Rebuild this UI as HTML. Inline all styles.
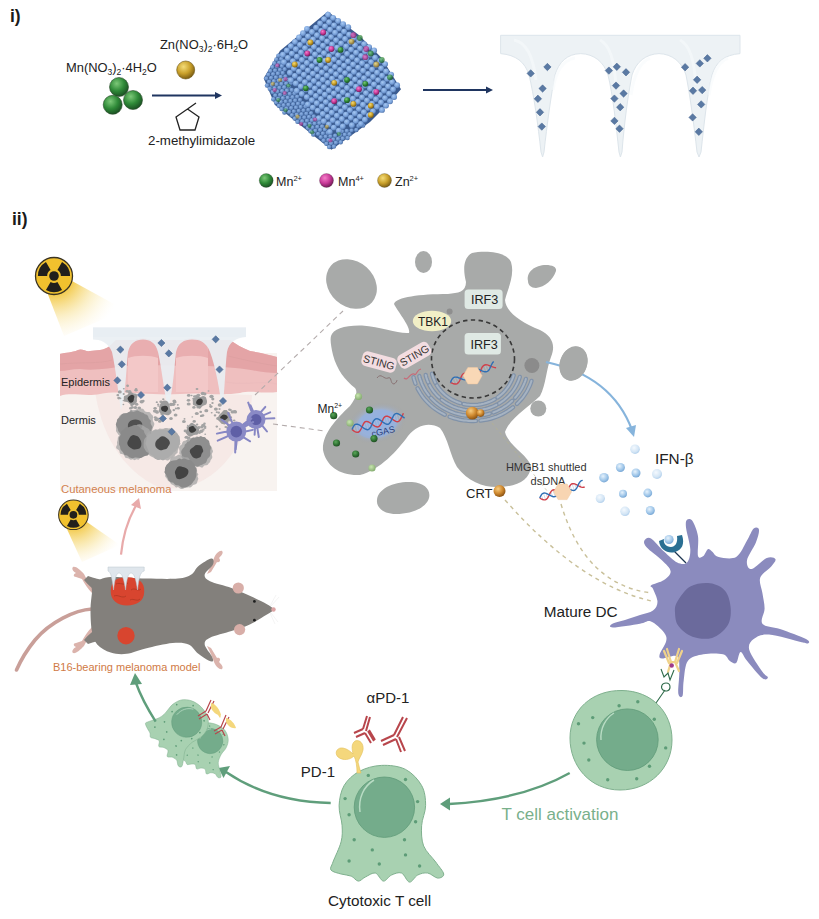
<!DOCTYPE html>
<html><head><meta charset="utf-8">
<style>
html,body{margin:0;padding:0;background:#fff;}
svg{display:block;}
text{font-family:"Liberation Sans",sans-serif;}
</style></head>
<body>
<svg width="819" height="919" viewBox="0 0 819 919">

<defs>
<radialGradient id="gGreen" cx="0.38" cy="0.32" r="0.7"><stop offset="0" stop-color="#7cc878"/><stop offset="0.55" stop-color="#2f8a38"/><stop offset="1" stop-color="#1a4f22"/></radialGradient>
<radialGradient id="gGold" cx="0.38" cy="0.32" r="0.7"><stop offset="0" stop-color="#f4dc78"/><stop offset="0.55" stop-color="#c9a02a"/><stop offset="1" stop-color="#7a5c12"/></radialGradient>
<radialGradient id="gMag" cx="0.38" cy="0.32" r="0.7"><stop offset="0" stop-color="#f57dc8"/><stop offset="0.55" stop-color="#c83a98"/><stop offset="1" stop-color="#701a55"/></radialGradient>
<radialGradient id="gOr" cx="0.38" cy="0.32" r="0.7"><stop offset="0" stop-color="#f7cd82"/><stop offset="0.55" stop-color="#d08a30"/><stop offset="1" stop-color="#8a5212"/></radialGradient>
<radialGradient id="gIfn" cx="0.4" cy="0.35" r="0.65"><stop offset="0" stop-color="#e6f2fc"/><stop offset="0.7" stop-color="#9cc4e8"/><stop offset="1" stop-color="#7aa8d5"/></radialGradient>
<radialGradient id="gIfnL" cx="0.4" cy="0.35" r="0.65"><stop offset="0" stop-color="#f4f9fe"/><stop offset="0.7" stop-color="#d3e5f5"/><stop offset="1" stop-color="#b3d0ec"/></radialGradient>
<radialGradient id="gMnL" cx="0.4" cy="0.35" r="0.7"><stop offset="0" stop-color="#c8e4b0"/><stop offset="1" stop-color="#7fa86a"/></radialGradient>
<radialGradient id="gMnD" cx="0.4" cy="0.35" r="0.7"><stop offset="0" stop-color="#5aa85a"/><stop offset="0.6" stop-color="#2e6f32"/><stop offset="1" stop-color="#1d4a20"/></radialGradient>
<radialGradient id="gBall" cx="0.4" cy="0.35" r="0.7"><stop offset="0" stop-color="#a6c8f2"/><stop offset="0.6" stop-color="#7aa2da"/><stop offset="1" stop-color="#4d70a8"/></radialGradient>
<radialGradient id="gBallD" cx="0.4" cy="0.35" r="0.7"><stop offset="0" stop-color="#8fb3e6"/><stop offset="0.6" stop-color="#6890c8"/><stop offset="1" stop-color="#3d5f98"/></radialGradient>
<radialGradient id="cgasG" cx="0.5" cy="0.5" r="0.5"><stop offset="0" stop-color="#8fb3e8"/><stop offset="0.6" stop-color="#9fb6dc" stop-opacity="0.9"/><stop offset="1" stop-color="#a2a2a2" stop-opacity="0"/></radialGradient>
<linearGradient id="beamG1" x1="0" y1="0" x2="0.7" y2="1"><stop offset="0" stop-color="#f0c230"/><stop offset="0.5" stop-color="#f8e08a" stop-opacity="0.7"/><stop offset="1" stop-color="#fff8e0" stop-opacity="0"/></linearGradient>
<pattern id="ballsTop" width="5.6" height="5.6" patternUnits="userSpaceOnUse" patternTransform="rotate(28)">
<rect width="5.6" height="5.6" fill="#4d7fbe"/><circle cx="2.8" cy="2.8" r="2.75" fill="url(#gBall)"/></pattern>
<pattern id="ballsL" width="4.4" height="4.4" patternUnits="userSpaceOnUse" patternTransform="rotate(-40)">
<rect width="4.4" height="4.4" fill="#456fa8"/><circle cx="2.2" cy="2.2" r="2.1" fill="url(#gBallD)"/></pattern>
</defs>

<rect width="819" height="919" fill="#fff"/>
<text x="10" y="22" font-size="17.5" font-weight="bold" fill="#1a1a1a">i)</text>
<text x="66" y="72" font-size="12.9" fill="#222">Mn(NO<tspan font-size="8.5" dy="3">3</tspan><tspan dy="-3">)</tspan><tspan font-size="8.5" dy="3">2</tspan><tspan dy="-3">·4H</tspan><tspan font-size="8.5" dy="3">2</tspan><tspan dy="-3">O</tspan></text>
<text x="160" y="49" font-size="12.9" fill="#222">Zn(NO<tspan font-size="8.5" dy="3">3</tspan><tspan dy="-3">)</tspan><tspan font-size="8.5" dy="3">2</tspan><tspan dy="-3">·6H</tspan><tspan font-size="8.5" dy="3">2</tspan><tspan dy="-3">O</tspan></text>
<text x="148" y="145" font-size="13.3" fill="#222">2-methylimidazole</text>
<circle cx="119" cy="87" r="9.5" fill="url(#gGreen)" stroke="#2a4a2a" stroke-width="0.6"/>
<circle cx="112.7" cy="104.8" r="9.5" fill="url(#gGreen)" stroke="#2a4a2a" stroke-width="0.6"/>
<circle cx="133" cy="100" r="9.5" fill="url(#gGreen)" stroke="#2a4a2a" stroke-width="0.6"/>
<circle cx="185.7" cy="70" r="9" fill="url(#gGold)" stroke="#6a5210" stroke-width="0.6"/>
<line x1="152" y1="95.5" x2="216" y2="95.5" stroke="#1f3560" stroke-width="2"/>
<path d="M215 92 L222 95.5 L215 99Z" fill="#1f3560"/>
<path d="M176 117 L187.5 109 L199 117 L195 130 L180 130Z M187.5 109 L196 103" fill="none" stroke="#222" stroke-width="1.3"/>
<path d="M327.8 11.4 L358.5 34.7 L381.5 57.7 L401 89.2 L388 104 L370 122 L331.4 149.7 L275 105 L263.7 78.3 L280 50.8Z" fill="#3a5b90"/>
<circle cx="278.4" cy="55.7" r="2.25" fill="url(#gBallD)"/>
<circle cx="281.2" cy="59.0" r="2.25" fill="url(#gBallD)"/>
<circle cx="276.4" cy="59.5" r="2.25" fill="url(#gBallD)"/>
<circle cx="279.2" cy="62.8" r="2.25" fill="url(#gBallD)"/>
<circle cx="274.4" cy="63.3" r="2.25" fill="url(#gBallD)"/>
<circle cx="281.9" cy="66.1" r="2.25" fill="url(#gBallD)"/>
<circle cx="277.1" cy="66.6" r="2.25" fill="url(#gBallD)"/>
<circle cx="272.4" cy="67.1" r="2.25" fill="url(#gBallD)"/>
<circle cx="284.7" cy="69.3" r="2.25" fill="url(#gBallD)"/>
<circle cx="279.9" cy="69.9" r="2.25" fill="url(#gBallD)"/>
<circle cx="275.1" cy="70.4" r="2.25" fill="url(#gBallD)"/>
<circle cx="270.3" cy="70.9" r="2.25" fill="url(#gBallD)"/>
<circle cx="282.7" cy="73.1" r="2.25" fill="url(#gBallD)"/>
<circle cx="277.9" cy="73.6" r="2.25" fill="url(#gBallD)"/>
<circle cx="273.1" cy="74.2" r="2.25" fill="url(#gBallD)"/>
<circle cx="268.3" cy="74.7" r="2.25" fill="url(#gBallD)"/>
<circle cx="285.4" cy="76.4" r="2.25" fill="url(#gBallD)"/>
<circle cx="280.7" cy="76.9" r="2.25" fill="url(#gBallD)"/>
<circle cx="275.9" cy="77.4" r="2.25" fill="url(#gBallD)"/>
<circle cx="271.1" cy="77.9" r="2.25" fill="url(#gBallD)"/>
<circle cx="266.3" cy="78.5" r="2.25" fill="url(#gBallD)"/>
<circle cx="288.2" cy="79.7" r="2.25" fill="url(#gBallD)"/>
<circle cx="283.4" cy="80.2" r="2.25" fill="url(#gBallD)"/>
<circle cx="278.6" cy="80.7" r="2.25" fill="url(#gBallD)"/>
<circle cx="273.9" cy="81.2" r="2.25" fill="url(#gBallD)"/>
<circle cx="269.1" cy="81.7" r="2.25" fill="url(#gBallD)"/>
<circle cx="291.0" cy="83.0" r="2.25" fill="url(#gBallD)"/>
<circle cx="286.2" cy="83.5" r="2.25" fill="url(#gBallD)"/>
<circle cx="281.4" cy="84.0" r="2.25" fill="url(#gBallD)"/>
<circle cx="276.6" cy="84.5" r="2.25" fill="url(#gBallD)"/>
<circle cx="271.8" cy="85.0" r="2.25" fill="url(#gBallD)"/>
<circle cx="267.0" cy="85.5" r="2.25" fill="url(#gBallD)"/>
<circle cx="288.9" cy="86.8" r="2.25" fill="url(#gBallD)"/>
<circle cx="284.2" cy="87.3" r="2.25" fill="url(#gBallD)"/>
<circle cx="279.4" cy="87.8" r="2.25" fill="url(#gBallD)"/>
<circle cx="274.6" cy="88.3" r="2.25" fill="url(#gBallD)"/>
<circle cx="269.8" cy="88.8" r="2.25" fill="url(#gBallD)"/>
<circle cx="291.7" cy="90.1" r="2.25" fill="url(#gBallD)"/>
<circle cx="286.9" cy="90.6" r="2.25" fill="url(#gBallD)"/>
<circle cx="282.1" cy="91.1" r="2.25" fill="url(#gBallD)"/>
<circle cx="277.4" cy="91.6" r="2.25" fill="url(#gBallD)"/>
<circle cx="272.6" cy="92.1" r="2.25" fill="url(#gBallD)"/>
<circle cx="294.5" cy="93.4" r="2.25" fill="url(#gBallD)"/>
<circle cx="289.7" cy="93.9" r="2.25" fill="url(#gBallD)"/>
<circle cx="284.9" cy="94.4" r="2.25" fill="url(#gBallD)"/>
<circle cx="280.1" cy="94.9" r="2.25" fill="url(#gBallD)"/>
<circle cx="275.3" cy="95.4" r="2.25" fill="url(#gBallD)"/>
<circle cx="297.2" cy="96.7" r="2.25" fill="url(#gBallD)"/>
<circle cx="292.5" cy="97.2" r="2.25" fill="url(#gBallD)"/>
<circle cx="287.7" cy="97.7" r="2.25" fill="url(#gBallD)"/>
<circle cx="282.9" cy="98.2" r="2.25" fill="url(#gBallD)"/>
<circle cx="278.1" cy="98.7" r="2.25" fill="url(#gBallD)"/>
<circle cx="273.3" cy="99.2" r="2.25" fill="url(#gBallD)"/>
<circle cx="300.0" cy="100.0" r="2.25" fill="url(#gBallD)"/>
<circle cx="295.2" cy="100.5" r="2.25" fill="url(#gBallD)"/>
<circle cx="290.4" cy="101.0" r="2.25" fill="url(#gBallD)"/>
<circle cx="285.7" cy="101.5" r="2.25" fill="url(#gBallD)"/>
<circle cx="280.9" cy="102.0" r="2.25" fill="url(#gBallD)"/>
<circle cx="276.1" cy="102.5" r="2.25" fill="url(#gBallD)"/>
<circle cx="302.8" cy="103.3" r="2.25" fill="url(#gBallD)"/>
<circle cx="298.0" cy="103.8" r="2.25" fill="url(#gBallD)"/>
<circle cx="293.2" cy="104.3" r="2.25" fill="url(#gBallD)"/>
<circle cx="288.4" cy="104.8" r="2.25" fill="url(#gBallD)"/>
<circle cx="283.6" cy="105.3" r="2.25" fill="url(#gBallD)"/>
<circle cx="278.9" cy="105.8" r="2.25" fill="url(#gBallD)"/>
<circle cx="305.5" cy="106.6" r="2.25" fill="url(#gBallD)"/>
<circle cx="300.7" cy="107.1" r="2.25" fill="url(#gBallD)"/>
<circle cx="296.0" cy="107.6" r="2.25" fill="url(#gBallD)"/>
<circle cx="291.2" cy="108.1" r="2.25" fill="url(#gBallD)"/>
<circle cx="286.4" cy="108.6" r="2.25" fill="url(#gBallD)"/>
<circle cx="281.6" cy="109.1" r="2.25" fill="url(#gBallD)"/>
<circle cx="308.3" cy="109.9" r="2.25" fill="url(#gBallD)"/>
<circle cx="303.5" cy="110.4" r="2.25" fill="url(#gBallD)"/>
<circle cx="298.7" cy="110.9" r="2.25" fill="url(#gBallD)"/>
<circle cx="293.9" cy="111.4" r="2.25" fill="url(#gBallD)"/>
<circle cx="289.2" cy="111.9" r="2.25" fill="url(#gBallD)"/>
<circle cx="284.4" cy="112.4" r="2.25" fill="url(#gBallD)"/>
<circle cx="311.1" cy="113.2" r="2.25" fill="url(#gBallD)"/>
<circle cx="306.3" cy="113.7" r="2.25" fill="url(#gBallD)"/>
<circle cx="301.5" cy="114.2" r="2.25" fill="url(#gBallD)"/>
<circle cx="296.7" cy="114.7" r="2.25" fill="url(#gBallD)"/>
<circle cx="291.9" cy="115.2" r="2.25" fill="url(#gBallD)"/>
<circle cx="313.8" cy="116.5" r="2.25" fill="url(#gBallD)"/>
<circle cx="309.0" cy="117.0" r="2.25" fill="url(#gBallD)"/>
<circle cx="304.3" cy="117.5" r="2.25" fill="url(#gBallD)"/>
<circle cx="299.5" cy="118.0" r="2.25" fill="url(#gBallD)"/>
<circle cx="294.7" cy="118.5" r="2.25" fill="url(#gBallD)"/>
<circle cx="316.6" cy="119.8" r="2.25" fill="url(#gBallD)"/>
<circle cx="311.8" cy="120.3" r="2.25" fill="url(#gBallD)"/>
<circle cx="307.0" cy="120.8" r="2.25" fill="url(#gBallD)"/>
<circle cx="302.2" cy="121.3" r="2.25" fill="url(#gBallD)"/>
<circle cx="297.5" cy="121.8" r="2.25" fill="url(#gBallD)"/>
<circle cx="319.3" cy="123.1" r="2.25" fill="url(#gBallD)"/>
<circle cx="314.6" cy="123.6" r="2.25" fill="url(#gBallD)"/>
<circle cx="309.8" cy="124.1" r="2.25" fill="url(#gBallD)"/>
<circle cx="305.0" cy="124.6" r="2.25" fill="url(#gBallD)"/>
<circle cx="363.1" cy="125.6" r="2.25" fill="url(#gBallD)"/>
<circle cx="358.4" cy="126.1" r="2.25" fill="url(#gBallD)"/>
<circle cx="322.1" cy="126.4" r="2.25" fill="url(#gBallD)"/>
<circle cx="317.3" cy="126.9" r="2.25" fill="url(#gBallD)"/>
<circle cx="312.5" cy="127.4" r="2.25" fill="url(#gBallD)"/>
<circle cx="307.8" cy="127.9" r="2.25" fill="url(#gBallD)"/>
<circle cx="324.9" cy="129.6" r="2.25" fill="url(#gBallD)"/>
<circle cx="356.3" cy="129.9" r="2.25" fill="url(#gBallD)"/>
<circle cx="320.1" cy="130.1" r="2.25" fill="url(#gBallD)"/>
<circle cx="351.6" cy="130.4" r="2.25" fill="url(#gBallD)"/>
<circle cx="315.3" cy="130.7" r="2.25" fill="url(#gBallD)"/>
<circle cx="346.8" cy="130.9" r="2.25" fill="url(#gBallD)"/>
<circle cx="310.5" cy="131.2" r="2.25" fill="url(#gBallD)"/>
<circle cx="342.0" cy="131.4" r="2.25" fill="url(#gBallD)"/>
<circle cx="327.6" cy="132.9" r="2.25" fill="url(#gBallD)"/>
<circle cx="322.9" cy="133.4" r="2.25" fill="url(#gBallD)"/>
<circle cx="318.1" cy="133.9" r="2.25" fill="url(#gBallD)"/>
<circle cx="349.5" cy="134.2" r="2.25" fill="url(#gBallD)"/>
<circle cx="313.3" cy="134.4" r="2.25" fill="url(#gBallD)"/>
<circle cx="344.8" cy="134.7" r="2.25" fill="url(#gBallD)"/>
<circle cx="340.0" cy="135.2" r="2.25" fill="url(#gBallD)"/>
<circle cx="335.2" cy="135.7" r="2.25" fill="url(#gBallD)"/>
<circle cx="330.4" cy="136.2" r="2.25" fill="url(#gBallD)"/>
<circle cx="325.6" cy="136.7" r="2.25" fill="url(#gBallD)"/>
<circle cx="320.8" cy="137.2" r="2.25" fill="url(#gBallD)"/>
<circle cx="347.5" cy="138.0" r="2.25" fill="url(#gBallD)"/>
<circle cx="342.7" cy="138.5" r="2.25" fill="url(#gBallD)"/>
<circle cx="338.0" cy="139.0" r="2.25" fill="url(#gBallD)"/>
<circle cx="333.2" cy="139.5" r="2.25" fill="url(#gBallD)"/>
<circle cx="328.4" cy="140.0" r="2.25" fill="url(#gBallD)"/>
<circle cx="323.6" cy="140.5" r="2.25" fill="url(#gBallD)"/>
<circle cx="340.7" cy="142.3" r="2.25" fill="url(#gBallD)"/>
<circle cx="335.9" cy="142.8" r="2.25" fill="url(#gBallD)"/>
<circle cx="331.1" cy="143.3" r="2.25" fill="url(#gBallD)"/>
<circle cx="326.4" cy="143.8" r="2.25" fill="url(#gBallD)"/>
<circle cx="333.9" cy="146.6" r="2.25" fill="url(#gBallD)"/>
<circle cx="329.1" cy="147.1" r="2.25" fill="url(#gBallD)"/>
<circle cx="328.1" cy="14.8" r="2.95" fill="url(#gBall)"/>
<circle cx="333.1" cy="17.9" r="2.95" fill="url(#gBall)"/>
<circle cx="324.1" cy="19.1" r="2.95" fill="url(#gBall)"/>
<circle cx="338.1" cy="21.0" r="2.95" fill="url(#gBall)"/>
<circle cx="329.1" cy="22.2" r="2.95" fill="url(#gBall)"/>
<circle cx="320.1" cy="23.4" r="2.95" fill="url(#gBall)"/>
<circle cx="343.1" cy="24.2" r="2.95" fill="url(#gBall)"/>
<circle cx="334.1" cy="25.4" r="2.95" fill="url(#gBall)"/>
<circle cx="325.1" cy="26.5" r="2.95" fill="url(#gBall)"/>
<circle cx="348.2" cy="27.3" r="2.95" fill="url(#gBall)"/>
<circle cx="316.1" cy="27.7" r="2.95" fill="url(#gBall)"/>
<circle cx="339.1" cy="28.5" r="2.95" fill="url(#gBall)"/>
<circle cx="307.0" cy="28.9" r="2.95" fill="url(#gBall)"/>
<circle cx="330.1" cy="29.7" r="2.95" fill="url(#gBall)"/>
<circle cx="321.1" cy="30.9" r="2.95" fill="url(#gBall)"/>
<circle cx="344.1" cy="31.6" r="2.95" fill="url(#gBall)"/>
<circle cx="312.0" cy="32.0" r="2.95" fill="url(#gBall)"/>
<circle cx="335.1" cy="32.8" r="2.95" fill="url(#gBall)"/>
<circle cx="303.0" cy="33.2" r="2.95" fill="url(#gBall)"/>
<circle cx="326.1" cy="34.0" r="2.95" fill="url(#gBall)"/>
<circle cx="349.1" cy="34.7" r="2.95" fill="url(#gBall)"/>
<circle cx="317.0" cy="35.2" r="2.95" fill="url(#gBall)"/>
<circle cx="340.1" cy="35.9" r="2.95" fill="url(#gBall)"/>
<circle cx="308.0" cy="36.4" r="2.95" fill="url(#gBall)"/>
<circle cx="331.1" cy="37.1" r="2.95" fill="url(#gBall)"/>
<circle cx="299.0" cy="37.5" r="2.95" fill="url(#gBall)"/>
<circle cx="354.1" cy="37.9" r="2.95" fill="url(#gBall)"/>
<circle cx="322.1" cy="38.3" r="2.95" fill="url(#gBall)"/>
<circle cx="345.1" cy="39.0" r="2.95" fill="url(#gBall)"/>
<circle cx="313.0" cy="39.5" r="2.95" fill="url(#gBall)"/>
<circle cx="336.1" cy="40.2" r="2.95" fill="url(#gBall)"/>
<circle cx="304.0" cy="40.7" r="2.95" fill="url(#gBall)"/>
<circle cx="359.1" cy="41.0" r="2.95" fill="url(#gBall)"/>
<circle cx="327.1" cy="41.4" r="2.95" fill="url(#gBall)"/>
<circle cx="295.0" cy="41.9" r="2.95" fill="url(#gBall)"/>
<circle cx="350.1" cy="42.2" r="2.95" fill="url(#gBall)"/>
<circle cx="318.0" cy="42.6" r="2.95" fill="url(#gBall)"/>
<circle cx="341.1" cy="43.4" r="2.95" fill="url(#gBall)"/>
<circle cx="309.0" cy="43.8" r="2.95" fill="url(#gBall)"/>
<circle cx="364.1" cy="44.1" r="2.95" fill="url(#gBall)"/>
<circle cx="332.1" cy="44.5" r="2.95" fill="url(#gBall)"/>
<circle cx="300.0" cy="45.0" r="2.95" fill="url(#gBall)"/>
<circle cx="355.1" cy="45.3" r="2.95" fill="url(#gBall)"/>
<circle cx="323.0" cy="45.7" r="2.95" fill="url(#gBall)"/>
<circle cx="290.9" cy="46.2" r="2.95" fill="url(#gBall)"/>
<circle cx="346.1" cy="46.5" r="2.95" fill="url(#gBall)"/>
<circle cx="314.0" cy="46.9" r="2.95" fill="url(#gBall)"/>
<circle cx="369.1" cy="47.2" r="2.95" fill="url(#gBall)"/>
<circle cx="337.1" cy="47.7" r="2.95" fill="url(#gBall)"/>
<circle cx="305.0" cy="48.1" r="2.95" fill="url(#gBall)"/>
<circle cx="360.1" cy="48.4" r="2.95" fill="url(#gBall)"/>
<circle cx="328.0" cy="48.9" r="2.95" fill="url(#gBall)"/>
<circle cx="295.9" cy="49.3" r="2.95" fill="url(#gBall)"/>
<circle cx="351.1" cy="49.6" r="2.95" fill="url(#gBall)"/>
<circle cx="319.0" cy="50.1" r="2.95" fill="url(#gBall)"/>
<circle cx="374.1" cy="50.4" r="2.95" fill="url(#gBall)"/>
<circle cx="286.9" cy="50.5" r="2.95" fill="url(#gBall)"/>
<circle cx="342.1" cy="50.8" r="2.95" fill="url(#gBall)"/>
<circle cx="310.0" cy="51.2" r="2.95" fill="url(#gBall)"/>
<circle cx="365.1" cy="51.6" r="2.95" fill="url(#gBall)"/>
<circle cx="333.0" cy="52.0" r="2.95" fill="url(#gBall)"/>
<circle cx="301.0" cy="52.4" r="2.95" fill="url(#gBall)"/>
<circle cx="356.1" cy="52.7" r="2.95" fill="url(#gBall)"/>
<circle cx="324.0" cy="53.2" r="2.95" fill="url(#gBall)"/>
<circle cx="291.9" cy="53.6" r="2.95" fill="url(#gBall)"/>
<circle cx="347.1" cy="53.9" r="2.95" fill="url(#gBall)"/>
<circle cx="315.0" cy="54.4" r="2.95" fill="url(#gBall)"/>
<circle cx="370.1" cy="54.7" r="2.95" fill="url(#gBall)"/>
<circle cx="282.9" cy="54.8" r="2.95" fill="url(#gBall)"/>
<circle cx="338.0" cy="55.1" r="2.95" fill="url(#gBall)"/>
<circle cx="306.0" cy="55.6" r="2.95" fill="url(#gBall)"/>
<circle cx="361.1" cy="55.9" r="2.95" fill="url(#gBall)"/>
<circle cx="329.0" cy="56.3" r="2.95" fill="url(#gBall)"/>
<circle cx="296.9" cy="56.7" r="2.95" fill="url(#gBall)"/>
<circle cx="352.1" cy="57.1" r="2.95" fill="url(#gBall)"/>
<circle cx="320.0" cy="57.5" r="2.95" fill="url(#gBall)"/>
<circle cx="375.1" cy="57.8" r="2.95" fill="url(#gBall)"/>
<circle cx="287.9" cy="57.9" r="2.95" fill="url(#gBall)"/>
<circle cx="343.0" cy="58.2" r="2.95" fill="url(#gBall)"/>
<circle cx="311.0" cy="58.7" r="2.95" fill="url(#gBall)"/>
<circle cx="366.1" cy="59.0" r="2.95" fill="url(#gBall)"/>
<circle cx="334.0" cy="59.4" r="2.95" fill="url(#gBall)"/>
<circle cx="301.9" cy="59.9" r="2.95" fill="url(#gBall)"/>
<circle cx="357.1" cy="60.2" r="2.95" fill="url(#gBall)"/>
<circle cx="325.0" cy="60.6" r="2.95" fill="url(#gBall)"/>
<circle cx="380.1" cy="60.9" r="2.95" fill="url(#gBall)"/>
<circle cx="292.9" cy="61.1" r="2.95" fill="url(#gBall)"/>
<circle cx="348.0" cy="61.4" r="2.95" fill="url(#gBall)"/>
<circle cx="316.0" cy="61.8" r="2.95" fill="url(#gBall)"/>
<circle cx="371.1" cy="62.1" r="2.95" fill="url(#gBall)"/>
<circle cx="283.9" cy="62.2" r="2.95" fill="url(#gBall)"/>
<circle cx="339.0" cy="62.6" r="2.95" fill="url(#gBall)"/>
<circle cx="306.9" cy="63.0" r="2.95" fill="url(#gBall)"/>
<circle cx="362.1" cy="63.3" r="2.95" fill="url(#gBall)"/>
<circle cx="330.0" cy="63.7" r="2.95" fill="url(#gBall)"/>
<circle cx="385.1" cy="64.1" r="2.95" fill="url(#gBall)"/>
<circle cx="297.9" cy="64.2" r="2.95" fill="url(#gBall)"/>
<circle cx="353.1" cy="64.5" r="2.95" fill="url(#gBall)"/>
<circle cx="321.0" cy="64.9" r="2.95" fill="url(#gBall)"/>
<circle cx="376.1" cy="65.2" r="2.95" fill="url(#gBall)"/>
<circle cx="288.9" cy="65.4" r="2.95" fill="url(#gBall)"/>
<circle cx="344.0" cy="65.7" r="2.95" fill="url(#gBall)"/>
<circle cx="311.9" cy="66.1" r="2.95" fill="url(#gBall)"/>
<circle cx="367.1" cy="66.4" r="2.95" fill="url(#gBall)"/>
<circle cx="335.0" cy="66.9" r="2.95" fill="url(#gBall)"/>
<circle cx="302.9" cy="67.3" r="2.95" fill="url(#gBall)"/>
<circle cx="358.1" cy="67.6" r="2.95" fill="url(#gBall)"/>
<circle cx="326.0" cy="68.1" r="2.95" fill="url(#gBall)"/>
<circle cx="381.1" cy="68.4" r="2.95" fill="url(#gBall)"/>
<circle cx="293.9" cy="68.5" r="2.95" fill="url(#gBall)"/>
<circle cx="349.0" cy="68.8" r="2.95" fill="url(#gBall)"/>
<circle cx="316.9" cy="69.3" r="2.95" fill="url(#gBall)"/>
<circle cx="372.1" cy="69.6" r="2.95" fill="url(#gBall)"/>
<circle cx="340.0" cy="70.0" r="2.95" fill="url(#gBall)"/>
<circle cx="307.9" cy="70.4" r="2.95" fill="url(#gBall)"/>
<circle cx="363.1" cy="70.7" r="2.95" fill="url(#gBall)"/>
<circle cx="331.0" cy="71.2" r="2.95" fill="url(#gBall)"/>
<circle cx="386.1" cy="71.5" r="2.95" fill="url(#gBall)"/>
<circle cx="298.9" cy="71.6" r="2.95" fill="url(#gBall)"/>
<circle cx="354.0" cy="71.9" r="2.95" fill="url(#gBall)"/>
<circle cx="321.9" cy="72.4" r="2.95" fill="url(#gBall)"/>
<circle cx="377.1" cy="72.7" r="2.95" fill="url(#gBall)"/>
<circle cx="289.9" cy="72.8" r="2.95" fill="url(#gBall)"/>
<circle cx="345.0" cy="73.1" r="2.95" fill="url(#gBall)"/>
<circle cx="312.9" cy="73.6" r="2.95" fill="url(#gBall)"/>
<circle cx="368.1" cy="73.9" r="2.95" fill="url(#gBall)"/>
<circle cx="336.0" cy="74.3" r="2.95" fill="url(#gBall)"/>
<circle cx="391.1" cy="74.6" r="2.95" fill="url(#gBall)"/>
<circle cx="303.9" cy="74.8" r="2.95" fill="url(#gBall)"/>
<circle cx="359.0" cy="75.1" r="2.95" fill="url(#gBall)"/>
<circle cx="326.9" cy="75.5" r="2.95" fill="url(#gBall)"/>
<circle cx="382.1" cy="75.8" r="2.95" fill="url(#gBall)"/>
<circle cx="294.9" cy="75.9" r="2.95" fill="url(#gBall)"/>
<circle cx="350.0" cy="76.3" r="2.95" fill="url(#gBall)"/>
<circle cx="317.9" cy="76.7" r="2.95" fill="url(#gBall)"/>
<circle cx="373.1" cy="77.0" r="2.95" fill="url(#gBall)"/>
<circle cx="341.0" cy="77.4" r="2.95" fill="url(#gBall)"/>
<circle cx="308.9" cy="77.9" r="2.95" fill="url(#gBall)"/>
<circle cx="364.0" cy="78.2" r="2.95" fill="url(#gBall)"/>
<circle cx="332.0" cy="78.6" r="2.95" fill="url(#gBall)"/>
<circle cx="387.1" cy="78.9" r="2.95" fill="url(#gBall)"/>
<circle cx="299.9" cy="79.1" r="2.95" fill="url(#gBall)"/>
<circle cx="355.0" cy="79.4" r="2.95" fill="url(#gBall)"/>
<circle cx="322.9" cy="79.8" r="2.95" fill="url(#gBall)"/>
<circle cx="378.1" cy="80.1" r="2.95" fill="url(#gBall)"/>
<circle cx="290.8" cy="80.3" r="2.95" fill="url(#gBall)"/>
<circle cx="346.0" cy="80.6" r="2.95" fill="url(#gBall)"/>
<circle cx="313.9" cy="81.0" r="2.95" fill="url(#gBall)"/>
<circle cx="369.0" cy="81.3" r="2.95" fill="url(#gBall)"/>
<circle cx="337.0" cy="81.8" r="2.95" fill="url(#gBall)"/>
<circle cx="392.1" cy="82.1" r="2.95" fill="url(#gBall)"/>
<circle cx="304.9" cy="82.2" r="2.95" fill="url(#gBall)"/>
<circle cx="360.0" cy="82.5" r="2.95" fill="url(#gBall)"/>
<circle cx="327.9" cy="82.9" r="2.95" fill="url(#gBall)"/>
<circle cx="383.1" cy="83.3" r="2.95" fill="url(#gBall)"/>
<circle cx="295.8" cy="83.4" r="2.95" fill="url(#gBall)"/>
<circle cx="351.0" cy="83.7" r="2.95" fill="url(#gBall)"/>
<circle cx="318.9" cy="84.1" r="2.95" fill="url(#gBall)"/>
<circle cx="374.0" cy="84.4" r="2.95" fill="url(#gBall)"/>
<circle cx="342.0" cy="84.9" r="2.95" fill="url(#gBall)"/>
<circle cx="397.1" cy="85.2" r="2.95" fill="url(#gBall)"/>
<circle cx="309.9" cy="85.3" r="2.95" fill="url(#gBall)"/>
<circle cx="365.0" cy="85.6" r="2.95" fill="url(#gBall)"/>
<circle cx="332.9" cy="86.1" r="2.95" fill="url(#gBall)"/>
<circle cx="388.1" cy="86.4" r="2.95" fill="url(#gBall)"/>
<circle cx="300.8" cy="86.5" r="2.95" fill="url(#gBall)"/>
<circle cx="356.0" cy="86.8" r="2.95" fill="url(#gBall)"/>
<circle cx="323.9" cy="87.3" r="2.95" fill="url(#gBall)"/>
<circle cx="379.0" cy="87.6" r="2.95" fill="url(#gBall)"/>
<circle cx="347.0" cy="88.0" r="2.95" fill="url(#gBall)"/>
<circle cx="314.9" cy="88.4" r="2.95" fill="url(#gBall)"/>
<circle cx="370.0" cy="88.8" r="2.95" fill="url(#gBall)"/>
<circle cx="337.9" cy="89.2" r="2.95" fill="url(#gBall)"/>
<circle cx="393.1" cy="89.5" r="2.95" fill="url(#gBall)"/>
<circle cx="305.9" cy="89.6" r="2.95" fill="url(#gBall)"/>
<circle cx="361.0" cy="89.9" r="2.95" fill="url(#gBall)"/>
<circle cx="328.9" cy="90.4" r="2.95" fill="url(#gBall)"/>
<circle cx="384.1" cy="90.7" r="2.95" fill="url(#gBall)"/>
<circle cx="296.8" cy="90.8" r="2.95" fill="url(#gBall)"/>
<circle cx="352.0" cy="91.1" r="2.95" fill="url(#gBall)"/>
<circle cx="319.9" cy="91.6" r="2.95" fill="url(#gBall)"/>
<circle cx="375.0" cy="91.9" r="2.95" fill="url(#gBall)"/>
<circle cx="342.9" cy="92.3" r="2.95" fill="url(#gBall)"/>
<circle cx="310.9" cy="92.8" r="2.95" fill="url(#gBall)"/>
<circle cx="366.0" cy="93.1" r="2.95" fill="url(#gBall)"/>
<circle cx="333.9" cy="93.5" r="2.95" fill="url(#gBall)"/>
<circle cx="389.1" cy="93.8" r="2.95" fill="url(#gBall)"/>
<circle cx="301.8" cy="94.0" r="2.95" fill="url(#gBall)"/>
<circle cx="357.0" cy="94.3" r="2.95" fill="url(#gBall)"/>
<circle cx="324.9" cy="94.7" r="2.95" fill="url(#gBall)"/>
<circle cx="380.0" cy="95.0" r="2.95" fill="url(#gBall)"/>
<circle cx="347.9" cy="95.5" r="2.95" fill="url(#gBall)"/>
<circle cx="315.9" cy="95.9" r="2.95" fill="url(#gBall)"/>
<circle cx="371.0" cy="96.2" r="2.95" fill="url(#gBall)"/>
<circle cx="338.9" cy="96.6" r="2.95" fill="url(#gBall)"/>
<circle cx="394.1" cy="97.0" r="2.95" fill="url(#gBall)"/>
<circle cx="306.8" cy="97.1" r="2.95" fill="url(#gBall)"/>
<circle cx="362.0" cy="97.4" r="2.95" fill="url(#gBall)"/>
<circle cx="329.9" cy="97.8" r="2.95" fill="url(#gBall)"/>
<circle cx="385.0" cy="98.1" r="2.95" fill="url(#gBall)"/>
<circle cx="352.9" cy="98.6" r="2.95" fill="url(#gBall)"/>
<circle cx="320.9" cy="99.0" r="2.95" fill="url(#gBall)"/>
<circle cx="376.0" cy="99.3" r="2.95" fill="url(#gBall)"/>
<circle cx="343.9" cy="99.8" r="2.95" fill="url(#gBall)"/>
<circle cx="311.8" cy="100.2" r="2.95" fill="url(#gBall)"/>
<circle cx="367.0" cy="100.5" r="2.95" fill="url(#gBall)"/>
<circle cx="334.9" cy="101.0" r="2.95" fill="url(#gBall)"/>
<circle cx="390.0" cy="101.3" r="2.95" fill="url(#gBall)"/>
<circle cx="357.9" cy="101.7" r="2.95" fill="url(#gBall)"/>
<circle cx="325.9" cy="102.1" r="2.95" fill="url(#gBall)"/>
<circle cx="381.0" cy="102.5" r="2.95" fill="url(#gBall)"/>
<circle cx="348.9" cy="102.9" r="2.95" fill="url(#gBall)"/>
<circle cx="316.8" cy="103.3" r="2.95" fill="url(#gBall)"/>
<circle cx="372.0" cy="103.6" r="2.95" fill="url(#gBall)"/>
<circle cx="339.9" cy="104.1" r="2.95" fill="url(#gBall)"/>
<circle cx="307.8" cy="104.5" r="2.95" fill="url(#gBall)"/>
<circle cx="363.0" cy="104.8" r="2.95" fill="url(#gBall)"/>
<circle cx="330.9" cy="105.3" r="2.95" fill="url(#gBall)"/>
<circle cx="386.0" cy="105.6" r="2.95" fill="url(#gBall)"/>
<circle cx="353.9" cy="106.0" r="2.95" fill="url(#gBall)"/>
<circle cx="321.8" cy="106.5" r="2.95" fill="url(#gBall)"/>
<circle cx="377.0" cy="106.8" r="2.95" fill="url(#gBall)"/>
<circle cx="344.9" cy="107.2" r="2.95" fill="url(#gBall)"/>
<circle cx="312.8" cy="107.6" r="2.95" fill="url(#gBall)"/>
<circle cx="368.0" cy="108.0" r="2.95" fill="url(#gBall)"/>
<circle cx="335.9" cy="108.4" r="2.95" fill="url(#gBall)"/>
<circle cx="358.9" cy="109.1" r="2.95" fill="url(#gBall)"/>
<circle cx="326.8" cy="109.6" r="2.95" fill="url(#gBall)"/>
<circle cx="382.0" cy="109.9" r="2.95" fill="url(#gBall)"/>
<circle cx="349.9" cy="110.3" r="2.95" fill="url(#gBall)"/>
<circle cx="317.8" cy="110.8" r="2.95" fill="url(#gBall)"/>
<circle cx="373.0" cy="111.1" r="2.95" fill="url(#gBall)"/>
<circle cx="340.9" cy="111.5" r="2.95" fill="url(#gBall)"/>
<circle cx="363.9" cy="112.3" r="2.95" fill="url(#gBall)"/>
<circle cx="331.8" cy="112.7" r="2.95" fill="url(#gBall)"/>
<circle cx="354.9" cy="113.5" r="2.95" fill="url(#gBall)"/>
<circle cx="322.8" cy="113.9" r="2.95" fill="url(#gBall)"/>
<circle cx="345.9" cy="114.6" r="2.95" fill="url(#gBall)"/>
<circle cx="368.9" cy="115.4" r="2.95" fill="url(#gBall)"/>
<circle cx="336.9" cy="115.8" r="2.95" fill="url(#gBall)"/>
<circle cx="359.9" cy="116.6" r="2.95" fill="url(#gBall)"/>
<circle cx="327.8" cy="117.0" r="2.95" fill="url(#gBall)"/>
<circle cx="350.9" cy="117.8" r="2.95" fill="url(#gBall)"/>
<circle cx="318.8" cy="118.2" r="2.95" fill="url(#gBall)"/>
<circle cx="341.9" cy="119.0" r="2.95" fill="url(#gBall)"/>
<circle cx="364.9" cy="119.7" r="2.95" fill="url(#gBall)"/>
<circle cx="332.8" cy="120.2" r="2.95" fill="url(#gBall)"/>
<circle cx="355.9" cy="120.9" r="2.95" fill="url(#gBall)"/>
<circle cx="323.8" cy="121.3" r="2.95" fill="url(#gBall)"/>
<circle cx="346.9" cy="122.1" r="2.95" fill="url(#gBall)"/>
<circle cx="337.8" cy="123.3" r="2.95" fill="url(#gBall)"/>
<circle cx="360.9" cy="124.0" r="2.95" fill="url(#gBall)"/>
<circle cx="328.8" cy="124.5" r="2.95" fill="url(#gBall)"/>
<circle cx="351.9" cy="125.2" r="2.95" fill="url(#gBall)"/>
<circle cx="342.8" cy="126.4" r="2.95" fill="url(#gBall)"/>
<circle cx="333.8" cy="127.6" r="2.95" fill="url(#gBall)"/>
<circle cx="338.8" cy="130.7" r="2.95" fill="url(#gBall)"/>
<circle cx="329.8" cy="131.9" r="2.95" fill="url(#gBall)"/>
<circle cx="323.2" cy="32.5" r="2.9" fill="url(#gMag)" opacity="1"/>
<circle cx="310.4" cy="42.5" r="2.9" fill="url(#gGold)" opacity="1"/>
<circle cx="331.4" cy="49" r="2.9" fill="url(#gMag)" opacity="1"/>
<circle cx="340.6" cy="49.9" r="2.9" fill="url(#gGreen)" opacity="1"/>
<circle cx="307.3" cy="53.5" r="2.9" fill="url(#gMag)" opacity="1"/>
<circle cx="319.5" cy="60" r="2.9" fill="url(#gGreen)" opacity="1"/>
<circle cx="328.1" cy="60" r="2.9" fill="url(#gGold)" opacity="1"/>
<circle cx="294.8" cy="64.5" r="2.9" fill="url(#gGold)" opacity="1"/>
<circle cx="305.8" cy="88.3" r="2.9" fill="url(#gGreen)" opacity="1"/>
<circle cx="334.2" cy="82.8" r="2.9" fill="url(#gGold)" opacity="1"/>
<circle cx="347" cy="80" r="2.9" fill="url(#gGreen)" opacity="1"/>
<circle cx="365.3" cy="83.8" r="2.9" fill="url(#gGreen)" opacity="1"/>
<circle cx="359" cy="89.2" r="2.9" fill="url(#gMag)" opacity="1"/>
<circle cx="376.3" cy="92" r="2.9" fill="url(#gMag)" opacity="1"/>
<circle cx="334.2" cy="101.2" r="2.9" fill="url(#gMag)" opacity="1"/>
<circle cx="347" cy="100.2" r="2.9" fill="url(#gGreen)" opacity="1"/>
<circle cx="353.4" cy="103.9" r="2.9" fill="url(#gGold)" opacity="1"/>
<circle cx="370.8" cy="105.7" r="2.9" fill="url(#gGold)" opacity="1"/>
<circle cx="370.8" cy="114.9" r="2.9" fill="url(#gGold)" opacity="1"/>
<circle cx="353.4" cy="35.2" r="2.9" fill="url(#gMag)" opacity="0.75"/>
<circle cx="351.6" cy="41.6" r="2.9" fill="url(#gGold)" opacity="0.75"/>
<circle cx="359.8" cy="38" r="2.9" fill="url(#gGreen)" opacity="0.75"/>
<circle cx="366.2" cy="49" r="2.9" fill="url(#gMag)" opacity="0.75"/>
<circle cx="370.8" cy="53.5" r="2.9" fill="url(#gGreen)" opacity="0.75"/>
<circle cx="365.3" cy="57.2" r="2.9" fill="url(#gMag)" opacity="0.75"/>
<circle cx="376.3" cy="64.5" r="2.9" fill="url(#gGold)" opacity="0.75"/>
<circle cx="390" cy="77.3" r="2.9" fill="url(#gGreen)" opacity="0.75"/>
<circle cx="381.8" cy="60" r="2.9" fill="url(#gGreen)" opacity="0.75"/>
<circle cx="277.4" cy="65.4" r="2.1" fill="url(#gMag)" opacity="0.6"/>
<circle cx="285.6" cy="79.2" r="2.1" fill="url(#gMag)" opacity="0.6"/>
<circle cx="280.1" cy="80" r="2.1" fill="url(#gGold)" opacity="0.6"/>
<circle cx="288.4" cy="85.6" r="2.1" fill="url(#gGreen)" opacity="0.6"/>
<circle cx="274.7" cy="90.2" r="2.1" fill="url(#gMag)" opacity="0.6"/>
<circle cx="284.7" cy="93" r="2.1" fill="url(#gMag)" opacity="0.6"/>
<circle cx="272.8" cy="83.8" r="2.1" fill="url(#gGold)" opacity="0.6"/>
<circle cx="278.3" cy="100.2" r="2.1" fill="url(#gGreen)" opacity="0.6"/>
<circle cx="285.6" cy="110.3" r="2.1" fill="url(#gGreen)" opacity="0.6"/>
<circle cx="297.5" cy="116.7" r="2.1" fill="url(#gGold)" opacity="0.6"/>
<circle cx="301.2" cy="124" r="2.1" fill="url(#gMag)" opacity="0.6"/>
<circle cx="315" cy="119.5" r="2.1" fill="url(#gMag)" opacity="0.6"/>
<circle cx="309.5" cy="125.9" r="2.1" fill="url(#gGreen)" opacity="0.6"/>
<circle cx="326.8" cy="126.8" r="2.1" fill="url(#gGold)" opacity="0.6"/>
<circle cx="312.2" cy="132.3" r="2.1" fill="url(#gGreen)" opacity="0.6"/>
<circle cx="330.5" cy="140.5" r="2.1" fill="url(#gMag)" opacity="0.6"/>
<circle cx="338.8" cy="134" r="2.1" fill="url(#gGreen)" opacity="0.6"/>
<circle cx="266.2" cy="180.5" r="7" fill="url(#gGreen)" stroke="#333" stroke-width="0.4" stroke-opacity="0.6"/>
<circle cx="326.5" cy="180.5" r="7" fill="url(#gMag)" stroke="#333" stroke-width="0.4" stroke-opacity="0.6"/>
<circle cx="384.5" cy="180.5" r="7" fill="url(#gGold)" stroke="#333" stroke-width="0.4" stroke-opacity="0.6"/>
<text x="276" y="186" font-size="12.5" fill="#222">Mn<tspan font-size="7.5" dy="-5">2+</tspan></text>
<text x="338" y="186" font-size="12.5" fill="#222">Mn<tspan font-size="7.5" dy="-5">4+</tspan></text>
<text x="395" y="186" font-size="12.5" fill="#222">Zn<tspan font-size="7.5" dy="-5">2+</tspan></text>
<line x1="423" y1="90" x2="487" y2="90" stroke="#1f3560" stroke-width="2"/>
<path d="M486 86.5 L493 90 L486 93.5Z" fill="#1f3560"/>
<path d="M500.6 35.3 L740 35.3 L740 53.6 C724 55 716 62 712 75 C707 95 704 125 701 152 L699 157 L697 152 C694 125 690 95 686 75 C682 62 672 54 659 53.6 C646 54 636 62 632 75 C628 95 624 125 622 152 L620.4 157 L619 152 C616 125 613 95 608 75 C604 62 594 54 580.7 53.6 C567 54 559 62 555 75 C551 95 547 125 544 152 L542.6 157 L541 152 C538 125 534 95 529 75 C525 62 516 55 500.6 53.6Z" fill="#edf2f5" stroke="#dde5eb" stroke-width="1"/>
<path d="M514 40 C525 42 533 55 536 80 M575 58 C563 60 556 70 553 90 M600 40 C610 45 614 60 616 85 M650 58 C640 62 634 75 631 95 M680 40 C690 45 694 60 696 85 M728 58 C718 62 712 75 709 95" fill="none" stroke="#f7fafc" stroke-width="3" opacity="0.6"/>
<path d="M530.7 69.7 L534.4 73.4 L530.7 77.1 L527.0 73.4Z" fill="#5a79a3" stroke="#3f5f8a" stroke-width="0.5"/>
<path d="M547.4 63.3 L551.1 67.0 L547.4 70.7 L543.7 67.0Z" fill="#5a79a3" stroke="#3f5f8a" stroke-width="0.5"/>
<path d="M542.6 84.8 L546.3 88.5 L542.6 92.2 L538.9 88.5Z" fill="#5a79a3" stroke="#3f5f8a" stroke-width="0.5"/>
<path d="M537.9 95.1 L541.6 98.8 L537.9 102.5 L534.2 98.8Z" fill="#5a79a3" stroke="#3f5f8a" stroke-width="0.5"/>
<path d="M540.0 108.6 L543.7 112.3 L540.0 116.0 L536.3 112.3Z" fill="#5a79a3" stroke="#3f5f8a" stroke-width="0.5"/>
<path d="M541.8 122.9 L545.5 126.6 L541.8 130.3 L538.1 126.6Z" fill="#5a79a3" stroke="#3f5f8a" stroke-width="0.5"/>
<path d="M608.9 66.9 L612.6 70.6 L608.9 74.3 L605.2 70.6Z" fill="#5a79a3" stroke="#3f5f8a" stroke-width="0.5"/>
<path d="M616.8 63.1 L620.5 66.8 L616.8 70.5 L613.1 66.8Z" fill="#5a79a3" stroke="#3f5f8a" stroke-width="0.5"/>
<path d="M626.0 68.6 L629.7 72.3 L626.0 76.0 L622.3 72.3Z" fill="#5a79a3" stroke="#3f5f8a" stroke-width="0.5"/>
<path d="M616.0 81.9 L619.7 85.6 L616.0 89.3 L612.3 85.6Z" fill="#5a79a3" stroke="#3f5f8a" stroke-width="0.5"/>
<path d="M623.6 89.8 L627.3 93.5 L623.6 97.2 L619.9 93.5Z" fill="#5a79a3" stroke="#3f5f8a" stroke-width="0.5"/>
<path d="M614.4 94.9 L618.1 98.6 L614.4 102.3 L610.7 98.6Z" fill="#5a79a3" stroke="#3f5f8a" stroke-width="0.5"/>
<path d="M620.2 103.5 L623.9 107.2 L620.2 110.9 L616.5 107.2Z" fill="#5a79a3" stroke="#3f5f8a" stroke-width="0.5"/>
<path d="M614.4 117.2 L618.1 120.9 L614.4 124.6 L610.7 120.9Z" fill="#5a79a3" stroke="#3f5f8a" stroke-width="0.5"/>
<path d="M619.5 125.0 L623.2 128.7 L619.5 132.4 L615.8 128.7Z" fill="#5a79a3" stroke="#3f5f8a" stroke-width="0.5"/>
<path d="M685.1 63.5 L688.8 67.2 L685.1 70.9 L681.4 67.2Z" fill="#5a79a3" stroke="#3f5f8a" stroke-width="0.5"/>
<path d="M699.8 59.7 L703.5 63.4 L699.8 67.1 L696.1 63.4Z" fill="#5a79a3" stroke="#3f5f8a" stroke-width="0.5"/>
<path d="M707.4 54.6 L711.1 58.3 L707.4 62.0 L703.7 58.3Z" fill="#5a79a3" stroke="#3f5f8a" stroke-width="0.5"/>
<path d="M697.1 76.1 L700.8 79.8 L697.1 83.5 L693.4 79.8Z" fill="#5a79a3" stroke="#3f5f8a" stroke-width="0.5"/>
<path d="M693.0 87.1 L696.7 90.8 L693.0 94.5 L689.3 90.8Z" fill="#5a79a3" stroke="#3f5f8a" stroke-width="0.5"/>
<path d="M702.2 86.4 L705.9 90.1 L702.2 93.8 L698.5 90.1Z" fill="#5a79a3" stroke="#3f5f8a" stroke-width="0.5"/>
<path d="M701.2 100.7 L704.9 104.4 L701.2 108.1 L697.5 104.4Z" fill="#5a79a3" stroke="#3f5f8a" stroke-width="0.5"/>
<path d="M692.6 113.7 L696.3 117.4 L692.6 121.1 L688.9 117.4Z" fill="#5a79a3" stroke="#3f5f8a" stroke-width="0.5"/>
<path d="M698.8 128.1 L702.5 131.8 L698.8 135.5 L695.1 131.8Z" fill="#5a79a3" stroke="#3f5f8a" stroke-width="0.5"/>
<text x="12" y="225" font-size="17.5" font-weight="bold" fill="#1a1a1a">ii)</text>
<radialGradient id="bm1" gradientUnits="userSpaceOnUse" cx="54" cy="276" r="68"><stop offset="0.25" stop-color="#f1c12e" stop-opacity="0.9"/><stop offset="0.6" stop-color="#f6dc82" stop-opacity="0.45"/><stop offset="1" stop-color="#fff6dc" stop-opacity="0"/></radialGradient>
<path d="M47 292 L72 281 L125 310 L64 336Z" fill="url(#bm1)"/>
<g transform="translate(54 276)">
<circle r="18.5" fill="#f1c12e" stroke="#3b3422" stroke-width="1.30"/>
<path d="M-6.84 -0.00 L-16.09 -0.00 A16.09 16.09 0 0 1 -8.05 -13.94 L-3.42 -5.93 A6.84 6.84 0 0 0 -6.84 -0.00Z" fill="#22201c"/>
<path d="M3.42 -5.93 L8.05 -13.94 A16.09 16.09 0 0 1 16.09 0.00 L6.84 0.00 A6.84 6.84 0 0 0 3.42 -5.93Z" fill="#22201c"/>
<path d="M3.42 5.93 L8.05 13.94 A16.09 16.09 0 0 1 -8.05 13.94 L-3.42 5.93 A6.84 6.84 0 0 0 3.42 5.93Z" fill="#22201c"/>
<circle r="4.81" fill="#22201c"/>
</g>
<g id="skin">
<rect x="60" y="353" width="217" height="138" fill="#f8f3f0"/>
<path d="M95 390 C100 430 120 470 160 488 C200 492 230 470 250 420 L252 395Z" fill="#f5e6e3" opacity="0.8"/>
<path d="M60 354 C66 352 72 353 78 350 C82 348 86 352 90 351 L100 350 C108 349 112 344 116 340 L230 340 C236 344 242 348 250 351 C262 353 270 355 277 357 L277 392 C265 394 252 390 240 393 C220 396 200 392 180 394 C150 396 120 390 100 394 C85 397 72 392 60 396Z" fill="#efbfbf"/>
<path d="M60 354 C66 352 72 353 78 350 C82 348 86 352 90 351 L100 350 C108 349 112 344 116 340 L230 340 C236 344 242 348 250 351 C262 353 270 355 277 357 L277 373 C262 373 250 369 235 368 C220 367 205 365 190 366 C170 366 150 364 125 366 C110 368 95 371 80 369 C72 369 66 371 60 371Z" fill="#e4a4a6"/>
<path d="M128 392 L128 352 C128 343 134 338.5 143.0 338.5 C152 338.5 158 343 158 352 L158 392Z" fill="#f3c8c8"/>
<path d="M128 358 L128 352 C128 343 134 338.5 143.0 338.5 C152 338.5 158 343 158 352 L158 358 C150 355 136 355 128 358Z" fill="#e9aeb0"/>
<path d="M176 392 L176 352 C176 343 182 338.5 192.0 338.5 C202 338.5 208 343 208 352 L208 392Z" fill="#f3c8c8"/>
<path d="M176 358 L176 352 C176 343 182 338.5 192.0 338.5 C202 338.5 208 343 208 352 L208 358 C200 355 184 355 176 358Z" fill="#e9aeb0"/>
<path d="M60 364 C80 362 100 364 112 360 M228 356 C245 360 262 364 277 366" fill="none" stroke="#dd9fa1" stroke-width="0.8"/>
<path d="M60 384 C80 386 95 382 112 386 M226 382 C245 386 262 380 277 384" fill="none" stroke="#ecbcbd" stroke-width="1"/>
<path d="M93 327.5 L246 327.5 L246 337 C236 338 229 342 227 352 C225 368 225 392 222 410 C220 392 216 368 210 352 C206 342 200 339.5 192 339.5 C184 339.5 178 343 176 352 C174 370 173 392 168 408 C164 392 162 370 158 352 C156 343 150 339.5 143 339.5 C136 339.5 130 343 128 352 C126 370 126 392 121 410 C118 392 116 370 112 352 C108 342 100 339.5 93 339.5Z" fill="#e9eff3" opacity="0.92"/>
<path d="M93 327.5 L246 327.5 L246 337 L93 337Z" fill="#e6edf2" opacity="0.6"/>
<ellipse cx="139.2" cy="408.1" rx="1.9" ry="1.5" fill="#a3a3a3"/>
<ellipse cx="130.5" cy="408.2" rx="1.5" ry="1.2" fill="#a3a3a3"/>
<ellipse cx="123.8" cy="388.8" rx="1.0" ry="0.8" fill="#a3a3a3"/>
<ellipse cx="143.1" cy="400.9" rx="1.5" ry="1.2" fill="#a3a3a3"/>
<ellipse cx="131.2" cy="393.7" rx="1.5" ry="1.2" fill="#a3a3a3"/>
<ellipse cx="129.5" cy="391.8" rx="2.1" ry="1.7" fill="#a3a3a3"/>
<ellipse cx="135.1" cy="395.6" rx="0.9" ry="0.7" fill="#a3a3a3"/>
<ellipse cx="117.8" cy="395.2" rx="1.4" ry="1.1" fill="#a3a3a3"/>
<ellipse cx="132.6" cy="407.3" rx="0.9" ry="0.8" fill="#a3a3a3"/>
<ellipse cx="132.4" cy="407.5" rx="1.5" ry="1.2" fill="#a3a3a3"/>
<ellipse cx="131.6" cy="405.7" rx="1.2" ry="0.9" fill="#a3a3a3"/>
<ellipse cx="123.4" cy="400.6" rx="0.9" ry="0.7" fill="#a3a3a3"/>
<ellipse cx="136.0" cy="390.2" rx="1.7" ry="1.4" fill="#a3a3a3"/>
<ellipse cx="136.3" cy="411.5" rx="2.0" ry="1.6" fill="#a3a3a3"/>
<ellipse cx="136.6" cy="404.2" rx="1.8" ry="1.5" fill="#a3a3a3"/>
<ellipse cx="127.6" cy="385.7" rx="1.4" ry="1.2" fill="#a3a3a3"/>
<ellipse cx="136.1" cy="389.0" rx="1.3" ry="1.0" fill="#a3a3a3"/>
<ellipse cx="119.8" cy="391.9" rx="2.0" ry="1.6" fill="#a3a3a3"/>
<ellipse cx="120.5" cy="398.4" rx="0.9" ry="0.8" fill="#a3a3a3"/>
<ellipse cx="131.4" cy="410.9" rx="1.4" ry="1.2" fill="#a3a3a3"/>
<ellipse cx="135.4" cy="407.5" rx="1.8" ry="1.5" fill="#a3a3a3"/>
<ellipse cx="127.0" cy="391.3" rx="1.5" ry="1.2" fill="#a3a3a3"/>
<ellipse cx="118.8" cy="398.1" rx="1.6" ry="1.3" fill="#a3a3a3"/>
<ellipse cx="123.4" cy="404.5" rx="0.9" ry="0.8" fill="#a3a3a3"/>
<ellipse cx="141.7" cy="401.8" rx="2.2" ry="1.7" fill="#a3a3a3"/>
<ellipse cx="123.7" cy="394.0" rx="1.1" ry="0.9" fill="#a3a3a3"/>
<path d="M137.2 397.3 Q136.6 398.7 136.9 400.0 Q137.3 401.4 136.5 402.5 Q135.7 403.6 134.6 404.5 Q133.5 405.3 132.2 405.5 Q130.8 405.6 130.0 404.2 Q129.1 402.8 128.3 402.4 Q127.5 402.0 125.5 401.8 Q123.5 401.7 123.7 400.2 Q123.9 398.7 123.8 397.2 Q123.7 395.7 125.5 395.5 Q127.4 395.3 127.9 394.2 Q128.5 393.0 129.6 392.3 Q130.8 391.6 131.8 392.6 Q132.9 393.6 134.6 393.4 Q136.2 393.3 137.0 394.5 Q137.8 395.8 137.2 397.3Z" fill="#9c9c9c"/>
<path d="M134.3 397.3 Q133.8 398.7 133.8 399.8 Q133.8 400.9 133.0 401.8 Q132.1 402.7 130.8 402.7 Q129.5 402.7 128.9 401.6 Q128.3 400.5 127.8 399.6 Q127.3 398.7 127.8 397.8 Q128.2 396.8 129.0 396.3 Q129.9 395.8 131.0 395.1 Q132.2 394.4 133.4 395.2 Q134.7 395.9 134.3 397.3Z" fill="#3c3c3c"/>
<ellipse cx="177.8" cy="404.9" rx="1.0" ry="0.8" fill="#a3a3a3"/>
<ellipse cx="175.6" cy="415.0" rx="1.9" ry="1.5" fill="#a3a3a3"/>
<ellipse cx="161.0" cy="401.8" rx="1.7" ry="1.4" fill="#a3a3a3"/>
<ellipse cx="156.8" cy="402.2" rx="1.1" ry="0.9" fill="#a3a3a3"/>
<ellipse cx="157.1" cy="412.2" rx="1.8" ry="1.5" fill="#a3a3a3"/>
<ellipse cx="178.3" cy="408.2" rx="1.6" ry="1.3" fill="#a3a3a3"/>
<ellipse cx="157.8" cy="411.1" rx="0.9" ry="0.8" fill="#a3a3a3"/>
<ellipse cx="173.8" cy="410.2" rx="1.3" ry="1.1" fill="#a3a3a3"/>
<ellipse cx="155.3" cy="417.5" rx="1.6" ry="1.3" fill="#a3a3a3"/>
<ellipse cx="158.2" cy="406.0" rx="0.9" ry="0.7" fill="#a3a3a3"/>
<ellipse cx="162.0" cy="414.1" rx="1.6" ry="1.3" fill="#a3a3a3"/>
<ellipse cx="175.9" cy="408.5" rx="1.1" ry="0.9" fill="#a3a3a3"/>
<ellipse cx="174.3" cy="401.1" rx="1.9" ry="1.5" fill="#a3a3a3"/>
<ellipse cx="174.7" cy="402.0" rx="1.9" ry="1.5" fill="#a3a3a3"/>
<ellipse cx="156.4" cy="419.6" rx="2.2" ry="1.7" fill="#a3a3a3"/>
<ellipse cx="171.0" cy="418.6" rx="1.8" ry="1.5" fill="#a3a3a3"/>
<ellipse cx="155.3" cy="410.9" rx="1.5" ry="1.2" fill="#a3a3a3"/>
<ellipse cx="173.3" cy="404.3" rx="2.0" ry="1.6" fill="#a3a3a3"/>
<ellipse cx="156.9" cy="418.9" rx="2.1" ry="1.7" fill="#a3a3a3"/>
<ellipse cx="155.0" cy="411.1" rx="2.1" ry="1.7" fill="#a3a3a3"/>
<ellipse cx="163.3" cy="399.3" rx="1.2" ry="1.0" fill="#a3a3a3"/>
<ellipse cx="159.7" cy="418.7" rx="1.1" ry="0.9" fill="#a3a3a3"/>
<ellipse cx="171.0" cy="404.5" rx="2.1" ry="1.7" fill="#a3a3a3"/>
<ellipse cx="159.8" cy="421.3" rx="1.8" ry="1.5" fill="#a3a3a3"/>
<ellipse cx="155.1" cy="408.3" rx="1.7" ry="1.4" fill="#a3a3a3"/>
<ellipse cx="158.2" cy="404.5" rx="1.2" ry="0.9" fill="#a3a3a3"/>
<path d="M169.8 407.5 Q169.7 408.6 171.0 410.1 Q172.2 411.7 171.3 413.0 Q170.5 414.3 169.0 414.9 Q167.6 415.5 166.2 414.9 Q164.8 414.3 163.6 414.4 Q162.3 414.5 161.3 413.9 Q160.2 413.2 159.4 412.2 Q158.6 411.2 159.0 409.9 Q159.4 408.6 159.2 407.4 Q159.0 406.2 159.7 405.2 Q160.3 404.1 161.1 402.8 Q161.9 401.5 163.3 400.8 Q164.8 400.1 166.3 400.7 Q167.8 401.3 168.5 402.8 Q169.1 404.3 169.5 405.4 Q170.0 406.5 169.8 407.5Z" fill="#9c9c9c"/>
<path d="M167.9 407.6 Q168.3 408.6 167.9 409.6 Q167.4 410.5 166.7 411.3 Q165.9 412.1 164.9 411.9 Q163.8 411.6 162.8 411.2 Q161.8 410.8 161.3 409.7 Q160.8 408.6 161.2 407.4 Q161.5 406.2 162.8 406.2 Q164.0 406.2 164.9 405.8 Q165.8 405.5 166.6 406.1 Q167.5 406.7 167.9 407.6Z" fill="#3c3c3c"/>
<ellipse cx="200.7" cy="411.9" rx="1.4" ry="1.1" fill="#a3a3a3"/>
<ellipse cx="191.6" cy="395.5" rx="1.0" ry="0.8" fill="#a3a3a3"/>
<ellipse cx="212.5" cy="403.0" rx="1.2" ry="1.0" fill="#a3a3a3"/>
<ellipse cx="201.4" cy="415.9" rx="1.5" ry="1.2" fill="#a3a3a3"/>
<ellipse cx="204.8" cy="394.0" rx="1.7" ry="1.4" fill="#a3a3a3"/>
<ellipse cx="206.3" cy="410.7" rx="2.0" ry="1.6" fill="#a3a3a3"/>
<ellipse cx="188.5" cy="400.3" rx="1.8" ry="1.4" fill="#a3a3a3"/>
<ellipse cx="210.9" cy="406.6" rx="1.7" ry="1.3" fill="#a3a3a3"/>
<ellipse cx="198.3" cy="407.0" rx="2.0" ry="1.6" fill="#a3a3a3"/>
<ellipse cx="188.7" cy="404.0" rx="2.0" ry="1.6" fill="#a3a3a3"/>
<ellipse cx="197.0" cy="389.0" rx="1.4" ry="1.1" fill="#a3a3a3"/>
<ellipse cx="202.8" cy="393.5" rx="2.1" ry="1.7" fill="#a3a3a3"/>
<ellipse cx="204.3" cy="397.9" rx="1.1" ry="0.9" fill="#a3a3a3"/>
<ellipse cx="202.8" cy="415.4" rx="1.5" ry="1.2" fill="#a3a3a3"/>
<ellipse cx="194.6" cy="396.5" rx="1.6" ry="1.2" fill="#a3a3a3"/>
<ellipse cx="193.9" cy="407.4" rx="1.7" ry="1.3" fill="#a3a3a3"/>
<ellipse cx="188.7" cy="395.4" rx="1.8" ry="1.4" fill="#a3a3a3"/>
<ellipse cx="211.5" cy="396.5" rx="2.2" ry="1.8" fill="#a3a3a3"/>
<ellipse cx="196.9" cy="396.3" rx="2.0" ry="1.6" fill="#a3a3a3"/>
<ellipse cx="212.8" cy="399.1" rx="1.6" ry="1.3" fill="#a3a3a3"/>
<ellipse cx="198.4" cy="395.3" rx="2.0" ry="1.6" fill="#a3a3a3"/>
<ellipse cx="193.2" cy="398.6" rx="1.0" ry="0.8" fill="#a3a3a3"/>
<ellipse cx="208.5" cy="391.0" rx="1.0" ry="0.8" fill="#a3a3a3"/>
<ellipse cx="202.7" cy="393.7" rx="1.1" ry="0.9" fill="#a3a3a3"/>
<ellipse cx="196.8" cy="413.5" rx="2.0" ry="1.6" fill="#a3a3a3"/>
<ellipse cx="210.1" cy="404.9" rx="1.0" ry="0.8" fill="#a3a3a3"/>
<path d="M206.9 400.6 Q207.2 402.0 206.8 403.3 Q206.4 404.7 205.0 405.1 Q203.5 405.5 202.7 406.0 Q201.8 406.5 200.9 408.0 Q200.0 409.5 199.0 408.2 Q197.9 407.0 197.1 406.4 Q196.2 405.8 194.4 405.4 Q192.5 405.1 192.8 403.6 Q193.1 402.0 192.7 400.4 Q192.4 398.8 193.8 398.1 Q195.3 397.3 196.4 396.7 Q197.5 396.0 198.8 396.7 Q200.0 397.4 201.3 396.7 Q202.5 395.9 204.1 396.2 Q205.6 396.4 206.1 397.8 Q206.6 399.3 206.9 400.6Z" fill="#9c9c9c"/>
<path d="M202.8 401.0 Q202.8 402.0 202.4 402.7 Q202.0 403.4 201.5 404.3 Q201.0 405.2 200.0 405.1 Q199.0 405.1 197.8 404.8 Q196.5 404.5 196.2 403.3 Q195.9 402.0 196.5 400.9 Q197.1 399.9 198.0 399.3 Q199.0 398.8 200.1 398.5 Q201.3 398.1 202.0 399.1 Q202.7 400.0 202.8 401.0Z" fill="#3c3c3c"/>
<ellipse cx="224.5" cy="423.3" rx="1.4" ry="1.1" fill="#a3a3a3"/>
<ellipse cx="227.1" cy="422.0" rx="1.4" ry="1.1" fill="#a3a3a3"/>
<ellipse cx="234.6" cy="411.4" rx="1.9" ry="1.5" fill="#a3a3a3"/>
<ellipse cx="225.7" cy="427.1" rx="1.3" ry="1.0" fill="#a3a3a3"/>
<ellipse cx="226.8" cy="422.7" rx="1.2" ry="0.9" fill="#a3a3a3"/>
<ellipse cx="235.2" cy="411.9" rx="1.9" ry="1.6" fill="#a3a3a3"/>
<ellipse cx="226.1" cy="411.0" rx="1.3" ry="1.0" fill="#a3a3a3"/>
<ellipse cx="215.9" cy="409.1" rx="2.0" ry="1.6" fill="#a3a3a3"/>
<ellipse cx="228.2" cy="413.4" rx="1.7" ry="1.4" fill="#a3a3a3"/>
<ellipse cx="219.5" cy="409.0" rx="1.1" ry="0.9" fill="#a3a3a3"/>
<ellipse cx="218.3" cy="418.4" rx="2.1" ry="1.7" fill="#a3a3a3"/>
<ellipse cx="230.6" cy="410.0" rx="1.3" ry="1.0" fill="#a3a3a3"/>
<ellipse cx="232.5" cy="411.9" rx="2.0" ry="1.6" fill="#a3a3a3"/>
<ellipse cx="229.5" cy="409.6" rx="1.4" ry="1.2" fill="#a3a3a3"/>
<ellipse cx="216.8" cy="412.2" rx="1.1" ry="0.9" fill="#a3a3a3"/>
<ellipse cx="219.8" cy="429.0" rx="1.0" ry="0.8" fill="#a3a3a3"/>
<ellipse cx="234.2" cy="420.5" rx="1.3" ry="1.0" fill="#a3a3a3"/>
<ellipse cx="215.0" cy="415.4" rx="1.3" ry="1.1" fill="#a3a3a3"/>
<ellipse cx="230.8" cy="417.3" rx="1.4" ry="1.1" fill="#a3a3a3"/>
<ellipse cx="227.1" cy="427.6" rx="1.3" ry="1.0" fill="#a3a3a3"/>
<ellipse cx="216.8" cy="426.6" rx="1.3" ry="1.1" fill="#a3a3a3"/>
<ellipse cx="211.7" cy="412.7" rx="1.0" ry="0.8" fill="#a3a3a3"/>
<ellipse cx="230.5" cy="420.1" rx="1.9" ry="1.5" fill="#a3a3a3"/>
<ellipse cx="218.7" cy="412.7" rx="1.3" ry="1.1" fill="#a3a3a3"/>
<ellipse cx="228.0" cy="425.6" rx="1.0" ry="0.8" fill="#a3a3a3"/>
<ellipse cx="219.8" cy="405.0" rx="2.1" ry="1.7" fill="#a3a3a3"/>
<path d="M230.5 415.9 Q230.0 417.4 229.7 418.5 Q229.3 419.6 228.9 420.7 Q228.4 421.8 227.6 423.0 Q226.8 424.1 225.4 424.1 Q224.0 424.2 222.6 424.1 Q221.3 424.0 220.6 422.8 Q219.8 421.6 218.7 420.8 Q217.5 420.1 217.7 418.8 Q218.0 417.4 218.5 416.4 Q218.9 415.3 219.6 414.5 Q220.3 413.7 221.1 413.0 Q221.9 412.3 222.9 411.0 Q224.0 409.7 225.4 410.3 Q226.7 410.8 227.9 411.6 Q229.0 412.4 230.0 413.4 Q231.0 414.5 230.5 415.9Z" fill="#9c9c9c"/>
<path d="M227.5 416.4 Q228.3 417.4 227.4 418.3 Q226.5 419.2 225.7 419.8 Q225.0 420.3 224.1 420.1 Q223.2 419.9 222.3 419.6 Q221.5 419.2 220.5 418.3 Q219.6 417.4 220.6 416.5 Q221.6 415.6 222.3 415.0 Q223.0 414.3 224.0 414.4 Q224.9 414.6 225.9 415.0 Q226.8 415.4 227.5 416.4Z" fill="#3c3c3c"/>
<ellipse cx="183.9" cy="421.4" rx="1.9" ry="1.5" fill="#a3a3a3"/>
<ellipse cx="203.2" cy="425.4" rx="2.1" ry="1.7" fill="#a3a3a3"/>
<ellipse cx="201.3" cy="431.2" rx="2.1" ry="1.7" fill="#a3a3a3"/>
<ellipse cx="184.5" cy="418.9" rx="1.0" ry="0.8" fill="#a3a3a3"/>
<ellipse cx="185.2" cy="430.9" rx="1.6" ry="1.3" fill="#a3a3a3"/>
<ellipse cx="187.7" cy="427.2" rx="1.2" ry="0.9" fill="#a3a3a3"/>
<ellipse cx="189.9" cy="442.5" rx="1.9" ry="1.5" fill="#a3a3a3"/>
<ellipse cx="198.8" cy="439.8" rx="1.1" ry="0.9" fill="#a3a3a3"/>
<ellipse cx="187.8" cy="425.4" rx="0.9" ry="0.7" fill="#a3a3a3"/>
<ellipse cx="197.1" cy="424.5" rx="1.2" ry="0.9" fill="#a3a3a3"/>
<ellipse cx="205.1" cy="428.1" rx="1.3" ry="1.0" fill="#a3a3a3"/>
<ellipse cx="201.9" cy="427.1" rx="1.8" ry="1.4" fill="#a3a3a3"/>
<ellipse cx="196.1" cy="442.4" rx="1.8" ry="1.4" fill="#a3a3a3"/>
<ellipse cx="205.1" cy="426.8" rx="1.3" ry="1.0" fill="#a3a3a3"/>
<ellipse cx="188.1" cy="434.5" rx="1.1" ry="0.9" fill="#a3a3a3"/>
<ellipse cx="199.4" cy="432.6" rx="1.7" ry="1.3" fill="#a3a3a3"/>
<ellipse cx="203.4" cy="429.7" rx="1.3" ry="1.1" fill="#a3a3a3"/>
<ellipse cx="187.8" cy="441.0" rx="1.5" ry="1.2" fill="#a3a3a3"/>
<ellipse cx="188.6" cy="438.0" rx="1.8" ry="1.5" fill="#a3a3a3"/>
<ellipse cx="205.2" cy="434.3" rx="0.9" ry="0.7" fill="#a3a3a3"/>
<ellipse cx="192.3" cy="416.9" rx="0.9" ry="0.7" fill="#a3a3a3"/>
<ellipse cx="194.2" cy="421.4" rx="1.7" ry="1.3" fill="#a3a3a3"/>
<ellipse cx="197.7" cy="429.8" rx="1.1" ry="0.9" fill="#a3a3a3"/>
<ellipse cx="198.8" cy="427.6" rx="1.9" ry="1.5" fill="#a3a3a3"/>
<ellipse cx="204.5" cy="423.7" rx="1.3" ry="1.1" fill="#a3a3a3"/>
<ellipse cx="186.4" cy="437.2" rx="1.9" ry="1.5" fill="#a3a3a3"/>
<path d="M198.6 428.4 Q199.6 429.5 199.0 430.8 Q198.5 432.1 198.1 433.5 Q197.8 435.0 196.1 434.7 Q194.3 434.4 193.3 435.3 Q192.3 436.2 190.7 436.6 Q189.2 437.0 188.3 435.7 Q187.3 434.5 186.1 433.5 Q185.0 432.5 186.0 431.0 Q187.0 429.5 186.9 428.3 Q186.7 427.2 187.7 426.5 Q188.7 425.9 189.3 424.8 Q189.9 423.7 191.1 423.1 Q192.3 422.5 193.4 423.4 Q194.5 424.3 195.6 424.7 Q196.6 425.2 197.1 426.2 Q197.5 427.3 198.6 428.4Z" fill="#9c9c9c"/>
<path d="M195.7 428.7 Q196.7 429.5 195.9 430.5 Q195.1 431.5 194.2 432.1 Q193.3 432.7 192.2 432.8 Q191.2 433.0 190.3 432.3 Q189.4 431.6 189.0 430.6 Q188.7 429.5 188.8 428.3 Q188.9 427.1 190.1 426.7 Q191.3 426.4 192.4 426.1 Q193.5 425.7 194.1 426.8 Q194.6 427.8 195.7 428.7Z" fill="#3c3c3c"/>
<path d="M153.8 425.9 Q153.2 427.0 152.9 428.0 Q152.6 429.0 152.3 429.9 Q152.0 430.9 151.1 431.6 Q150.1 432.3 150.1 433.3 Q150.0 434.2 149.6 435.1 Q149.2 435.9 148.8 436.8 Q148.5 437.7 147.2 437.9 Q146.0 438.0 145.6 438.9 Q145.2 439.8 144.4 440.2 Q143.6 440.7 143.3 442.1 Q142.9 443.5 142.0 443.9 Q141.1 444.3 139.9 444.0 Q138.8 443.6 138.0 445.1 Q137.2 446.6 136.1 446.7 Q135.0 446.9 133.9 446.5 Q132.9 446.1 131.8 445.9 Q130.7 445.7 129.9 444.8 Q129.1 444.0 128.2 443.4 Q127.4 442.8 126.2 442.9 Q125.0 442.9 124.5 441.8 Q124.1 440.7 123.2 440.1 Q122.4 439.6 121.7 438.9 Q121.0 438.2 120.6 437.2 Q120.3 436.2 119.3 435.6 Q118.3 435.0 117.9 434.1 Q117.5 433.1 116.7 432.3 Q115.8 431.4 116.0 430.2 Q116.2 429.1 116.0 428.1 Q115.7 427.0 116.0 425.9 Q116.2 424.9 116.2 423.8 Q116.3 422.7 116.9 421.8 Q117.5 420.9 118.2 420.1 Q118.9 419.3 118.8 418.0 Q118.6 416.7 119.4 415.9 Q120.2 415.2 121.1 414.6 Q122.1 414.1 123.1 413.7 Q124.1 413.3 125.2 413.3 Q126.4 413.3 127.3 413.0 Q128.1 412.8 128.9 412.4 Q129.8 412.0 130.7 412.0 Q131.6 412.0 132.3 410.9 Q133.1 409.8 134.0 410.0 Q135.0 410.3 136.0 409.5 Q137.0 408.8 138.0 409.3 Q138.9 409.8 140.2 409.1 Q141.5 408.4 142.6 408.7 Q143.7 409.0 144.2 410.3 Q144.7 411.5 145.9 411.7 Q147.0 412.0 148.5 412.0 Q150.1 411.9 150.5 413.1 Q150.9 414.3 152.1 414.9 Q153.3 415.5 153.1 417.0 Q152.9 418.4 152.8 419.6 Q152.7 420.8 153.4 421.7 Q154.2 422.6 154.3 423.7 Q154.4 424.8 153.8 425.9Z" fill="#a9a9a9" opacity="0.8"/>
<path d="M152.0 425.9 Q152.8 427.0 152.2 428.1 Q151.5 429.2 151.4 430.3 Q151.3 431.4 151.5 432.6 Q151.7 433.9 151.3 435.0 Q150.8 436.1 150.0 437.0 Q149.1 437.8 148.7 439.0 Q148.2 440.2 147.1 440.8 Q146.1 441.4 145.2 442.3 Q144.4 443.3 143.0 443.1 Q141.6 442.9 140.5 443.2 Q139.4 443.4 138.4 444.1 Q137.3 444.7 136.2 444.0 Q135.0 443.2 134.0 442.8 Q133.0 442.3 131.9 442.5 Q130.8 442.6 130.0 441.9 Q129.1 441.3 128.5 440.3 Q127.9 439.4 126.8 439.2 Q125.8 439.0 124.9 438.5 Q123.9 438.1 123.5 437.1 Q123.0 436.2 121.8 435.7 Q120.6 435.3 120.3 434.2 Q120.1 433.2 119.2 432.3 Q118.3 431.5 118.1 430.4 Q117.9 429.3 117.5 428.1 Q117.1 427.0 116.2 425.7 Q115.4 424.4 116.2 423.3 Q117.0 422.2 116.9 420.8 Q116.8 419.5 118.0 418.6 Q119.1 417.8 119.8 416.9 Q120.5 415.9 121.3 415.0 Q122.1 414.1 123.2 413.6 Q124.4 413.2 125.7 413.2 Q127.1 413.3 127.9 412.5 Q128.7 411.8 129.7 411.5 Q130.8 411.2 131.9 411.5 Q133.0 411.8 134.0 411.8 Q135.0 411.8 136.1 411.0 Q137.2 410.3 138.2 410.7 Q139.2 411.2 140.1 411.8 Q141.1 412.4 142.2 412.5 Q143.3 412.7 144.1 413.4 Q144.8 414.2 146.1 414.4 Q147.3 414.7 147.8 415.7 Q148.4 416.8 148.6 417.9 Q148.9 419.0 150.0 419.7 Q151.1 420.3 150.8 421.6 Q150.4 422.9 150.8 423.9 Q151.2 424.9 152.0 425.9Z" fill="#8e8e8e"/>
<path d="M142.3 425.2 Q142.2 427.0 141.5 428.4 Q140.9 429.8 140.3 431.3 Q139.6 432.8 138.2 433.7 Q136.7 434.5 135.0 434.6 Q133.3 434.6 131.7 433.8 Q130.2 433.0 129.2 431.6 Q128.3 430.2 128.0 428.6 Q127.8 427.0 127.9 425.3 Q127.9 423.6 129.0 422.2 Q130.1 420.8 131.7 420.3 Q133.4 419.8 135.1 419.5 Q136.8 419.3 138.4 420.0 Q140.1 420.6 141.3 422.0 Q142.5 423.4 142.3 425.2Z" fill="#505050"/>
<path d="M151.4 441.5 Q150.4 442.5 150.0 443.3 Q149.6 444.2 149.8 445.1 Q149.9 446.0 149.5 446.8 Q149.0 447.5 149.3 448.6 Q149.5 449.7 148.9 450.4 Q148.4 451.2 147.8 451.9 Q147.3 452.6 146.7 453.3 Q146.1 454.0 145.6 454.8 Q145.1 455.7 144.1 455.8 Q143.0 455.9 142.5 456.8 Q141.9 457.6 140.9 457.8 Q140.0 457.9 139.3 459.1 Q138.7 460.3 137.6 459.6 Q136.4 458.8 135.5 459.8 Q134.6 460.7 133.7 459.8 Q132.8 458.9 131.7 459.4 Q130.6 460.0 129.8 459.3 Q129.0 458.6 128.1 458.3 Q127.1 458.0 126.0 458.0 Q124.9 457.9 124.7 456.6 Q124.4 455.2 123.7 454.7 Q122.9 454.2 121.5 454.1 Q120.0 454.1 119.8 453.1 Q119.5 452.0 119.4 450.9 Q119.3 449.9 117.9 449.4 Q116.4 448.9 116.1 447.8 Q115.9 446.8 116.7 445.6 Q117.5 444.4 117.1 443.5 Q116.7 442.5 117.2 441.5 Q117.6 440.6 117.7 439.6 Q117.8 438.7 117.8 437.7 Q117.9 436.7 119.0 436.1 Q120.0 435.5 120.1 434.4 Q120.1 433.4 121.5 433.2 Q122.8 433.1 123.4 432.5 Q124.0 431.9 124.2 430.8 Q124.4 429.7 125.5 429.7 Q126.5 429.7 127.3 429.3 Q128.0 428.9 128.7 428.3 Q129.4 427.7 130.3 427.5 Q131.1 427.3 132.0 427.0 Q132.8 426.8 133.7 427.0 Q134.6 427.1 135.6 426.0 Q136.6 425.0 137.7 424.6 Q138.8 424.2 139.9 424.3 Q141.0 424.3 141.9 424.8 Q142.8 425.4 143.7 426.1 Q144.5 426.7 145.4 427.3 Q146.3 427.8 147.4 428.2 Q148.5 428.6 149.2 429.4 Q149.9 430.3 149.9 431.6 Q149.8 432.9 150.3 433.8 Q150.7 434.7 151.1 435.7 Q151.4 436.6 151.6 437.6 Q151.8 438.6 152.1 439.5 Q152.4 440.5 151.4 441.5Z" fill="#a9a9a9" opacity="0.8"/>
<path d="M149.8 441.5 Q149.8 442.5 150.8 443.6 Q151.8 444.8 150.9 445.7 Q150.1 446.6 150.7 448.0 Q151.3 449.4 150.7 450.5 Q150.2 451.5 149.7 452.6 Q149.2 453.7 148.5 454.7 Q147.7 455.6 146.3 455.8 Q144.9 455.9 143.9 456.4 Q142.9 457.0 142.0 457.6 Q141.1 458.2 139.9 457.9 Q138.7 457.7 137.6 457.7 Q136.6 457.7 135.6 457.6 Q134.6 457.4 133.6 457.9 Q132.5 458.3 131.5 458.1 Q130.5 457.8 129.5 457.4 Q128.6 457.0 127.9 456.1 Q127.2 455.2 126.0 455.3 Q124.7 455.3 124.2 454.4 Q123.6 453.5 123.1 452.6 Q122.6 451.7 121.8 451.0 Q121.1 450.3 120.6 449.4 Q120.2 448.5 120.2 447.4 Q120.2 446.4 119.5 445.5 Q118.9 444.6 119.0 443.5 Q119.2 442.5 119.0 441.5 Q118.9 440.4 118.8 439.3 Q118.6 438.2 119.2 437.3 Q119.7 436.3 120.3 435.5 Q120.9 434.6 121.0 433.4 Q121.1 432.2 121.7 431.1 Q122.2 430.1 123.3 429.6 Q124.3 429.1 125.0 428.0 Q125.6 426.9 127.0 427.1 Q128.3 427.4 129.3 426.9 Q130.3 426.4 131.4 426.2 Q132.4 426.0 133.5 425.3 Q134.6 424.6 135.7 425.1 Q136.8 425.6 137.9 426.0 Q138.9 426.5 139.7 427.4 Q140.4 428.4 141.3 428.9 Q142.2 429.4 143.1 429.9 Q144.0 430.3 144.1 431.6 Q144.2 432.9 144.7 433.6 Q145.2 434.4 145.7 435.1 Q146.1 435.9 146.9 436.5 Q147.8 437.0 148.6 437.8 Q149.4 438.5 149.6 439.5 Q149.8 440.5 149.8 441.5Z" fill="#8a8a8a"/>
<path d="M140.9 441.1 Q141.4 442.5 141.4 444.1 Q141.4 445.8 140.6 447.3 Q139.7 448.9 137.9 449.1 Q136.2 449.3 134.6 449.5 Q133.0 449.6 131.7 448.6 Q130.5 447.6 129.1 446.7 Q127.8 445.8 127.4 444.1 Q127.1 442.5 127.9 441.1 Q128.6 439.6 129.4 438.2 Q130.1 436.8 131.5 435.8 Q132.8 434.8 134.5 435.2 Q136.2 435.5 137.6 436.3 Q138.9 437.1 139.6 438.4 Q140.3 439.7 140.9 441.1Z" fill="#474747"/>
<path d="M180.1 442.8 Q181.1 443.7 180.1 444.6 Q179.2 445.6 179.1 446.5 Q179.0 447.4 178.6 448.3 Q178.2 449.2 177.9 450.1 Q177.7 451.0 177.7 452.1 Q177.8 453.3 176.7 453.6 Q175.5 454.0 175.3 455.1 Q175.0 456.1 174.0 456.4 Q173.0 456.8 172.3 457.4 Q171.6 458.0 170.8 458.5 Q170.0 459.1 169.3 459.8 Q168.5 460.6 167.5 460.5 Q166.4 460.4 165.4 459.7 Q164.3 459.0 163.5 459.3 Q162.6 459.5 161.7 459.2 Q160.9 458.9 159.9 459.5 Q158.9 460.1 158.0 459.7 Q157.1 459.3 156.3 459.0 Q155.4 458.6 154.6 458.2 Q153.7 457.8 152.9 457.3 Q152.2 456.8 151.2 456.4 Q150.2 456.1 149.5 455.4 Q148.8 454.7 148.6 453.6 Q148.4 452.6 147.1 452.2 Q145.8 451.8 145.6 450.8 Q145.3 449.7 144.6 448.9 Q143.8 448.0 143.7 446.9 Q143.5 445.8 143.6 444.8 Q143.6 443.7 143.7 442.6 Q143.8 441.6 144.0 440.5 Q144.2 439.5 144.7 438.6 Q145.3 437.6 146.1 436.9 Q146.8 436.1 146.8 434.9 Q146.8 433.8 147.6 433.1 Q148.5 432.4 149.2 431.7 Q149.9 431.0 151.0 430.8 Q152.1 430.6 153.1 430.4 Q154.1 430.2 154.8 429.6 Q155.6 429.1 156.7 429.6 Q157.8 430.0 158.5 429.2 Q159.1 428.3 160.0 428.4 Q160.9 428.5 161.7 428.7 Q162.6 428.8 163.5 428.7 Q164.3 428.5 165.3 428.1 Q166.3 427.7 167.1 428.1 Q167.9 428.4 169.0 428.4 Q170.0 428.3 171.0 428.5 Q172.1 428.6 172.8 429.3 Q173.6 429.9 174.2 430.7 Q174.7 431.6 175.8 432.0 Q176.8 432.4 177.1 433.4 Q177.5 434.4 177.9 435.2 Q178.4 436.1 178.7 437.0 Q178.9 438.0 179.3 438.9 Q179.7 439.8 179.5 440.8 Q179.2 441.8 180.1 442.8Z" fill="#a9a9a9" opacity="0.8"/>
<path d="M179.9 442.5 Q179.5 443.7 179.1 444.8 Q178.7 445.8 178.5 446.9 Q178.2 447.9 177.3 448.7 Q176.4 449.4 176.1 450.4 Q175.8 451.3 174.7 451.7 Q173.6 452.1 173.1 452.9 Q172.7 453.8 172.0 454.4 Q171.3 455.1 170.5 455.5 Q169.7 456.0 169.1 457.0 Q168.6 458.1 167.5 458.1 Q166.5 458.2 165.6 459.0 Q164.7 459.8 163.7 460.2 Q162.6 460.5 161.6 459.9 Q160.6 459.2 159.4 459.7 Q158.2 460.1 157.2 459.7 Q156.1 459.3 155.2 458.7 Q154.3 458.1 153.8 457.0 Q153.3 455.9 152.2 455.5 Q151.2 455.1 150.4 454.4 Q149.5 453.7 149.2 452.7 Q148.9 451.6 148.4 450.7 Q148.0 449.8 147.5 448.8 Q147.0 447.9 146.8 446.8 Q146.6 445.8 145.9 444.8 Q145.3 443.7 145.7 442.6 Q146.2 441.5 146.3 440.5 Q146.4 439.4 146.6 438.3 Q146.8 437.2 147.2 436.1 Q147.5 435.0 148.7 434.5 Q150.0 434.0 151.0 433.5 Q152.0 433.1 152.3 431.9 Q152.6 430.7 153.7 430.4 Q154.8 430.1 155.8 429.9 Q156.8 429.6 157.8 429.7 Q158.9 429.7 159.8 429.9 Q160.8 430.0 161.7 430.0 Q162.6 430.0 163.5 429.8 Q164.5 429.6 165.5 429.5 Q166.5 429.3 167.3 429.7 Q168.2 430.1 169.5 429.8 Q170.8 429.4 171.9 429.8 Q173.0 430.1 173.6 431.2 Q174.1 432.2 175.6 432.4 Q177.1 432.6 177.6 433.7 Q178.0 434.8 179.0 435.7 Q179.9 436.5 179.8 437.8 Q179.7 439.1 180.1 440.2 Q180.4 441.4 179.9 442.5Z" fill="#acacac"/>
<path d="M169.8 442.1 Q170.3 443.7 169.2 445.0 Q168.2 446.4 167.5 447.7 Q166.8 449.0 165.4 449.3 Q163.9 449.5 162.5 450.0 Q161.0 450.6 159.6 449.9 Q158.1 449.3 156.9 448.2 Q155.6 447.1 155.3 445.4 Q155.0 443.7 155.6 442.1 Q156.2 440.6 157.3 439.6 Q158.5 438.6 159.7 437.4 Q160.9 436.3 162.6 436.3 Q164.3 436.3 165.6 437.2 Q167.0 438.2 168.2 439.3 Q169.3 440.5 169.8 442.1Z" fill="#4a4a4a"/>
<path d="M212.8 450.6 Q213.3 451.5 212.6 452.4 Q211.9 453.2 211.8 454.1 Q211.7 454.9 212.1 456.0 Q212.5 457.0 212.1 457.9 Q211.8 458.8 211.1 459.4 Q210.4 460.1 210.3 461.2 Q210.2 462.2 209.3 462.8 Q208.5 463.3 208.1 464.3 Q207.7 465.2 206.5 465.2 Q205.2 465.1 204.5 465.6 Q203.7 466.0 203.1 466.9 Q202.4 467.9 201.3 467.4 Q200.2 466.9 199.3 466.7 Q198.4 466.6 197.5 467.0 Q196.7 467.4 195.9 467.0 Q195.0 466.5 194.3 465.7 Q193.7 464.8 192.8 464.9 Q192.0 464.9 191.3 464.6 Q190.5 464.4 190.1 463.5 Q189.7 462.6 188.8 462.6 Q187.8 462.7 187.5 461.8 Q187.3 460.9 186.5 460.6 Q185.7 460.3 185.3 459.6 Q184.9 458.9 184.1 458.4 Q183.4 457.9 182.1 457.5 Q180.7 457.1 180.8 456.1 Q180.9 455.1 179.9 454.3 Q178.9 453.5 179.3 452.5 Q179.7 451.5 179.5 450.5 Q179.2 449.5 179.1 448.5 Q178.9 447.4 179.4 446.5 Q179.9 445.6 181.0 445.0 Q182.0 444.4 182.1 443.4 Q182.2 442.4 182.9 441.7 Q183.5 441.0 184.6 440.8 Q185.7 440.5 186.6 440.2 Q187.4 439.8 187.7 438.8 Q188.0 437.7 189.1 437.8 Q190.1 437.8 191.0 437.9 Q192.0 438.0 192.7 437.6 Q193.4 437.2 194.3 437.3 Q195.1 437.4 195.9 436.8 Q196.7 436.1 197.5 436.4 Q198.4 436.7 199.1 437.2 Q199.8 437.7 200.9 437.1 Q201.9 436.5 202.4 437.5 Q202.9 438.5 203.8 438.7 Q204.6 438.9 205.2 439.5 Q205.7 440.2 206.9 440.2 Q208.1 440.1 208.1 441.2 Q208.2 442.3 209.0 442.8 Q209.9 443.2 209.9 444.2 Q209.9 445.2 210.6 445.8 Q211.3 446.4 211.7 447.2 Q212.2 448.0 212.2 448.9 Q212.2 449.8 212.8 450.6Z" fill="#a9a9a9" opacity="0.8"/>
<path d="M210.3 450.6 Q210.0 451.5 210.3 452.4 Q210.6 453.3 210.4 454.2 Q210.2 455.1 209.9 456.0 Q209.6 456.8 208.8 457.5 Q208.1 458.1 207.6 458.8 Q207.1 459.5 206.9 460.4 Q206.6 461.4 206.1 462.3 Q205.7 463.2 204.7 463.4 Q203.7 463.6 202.9 464.2 Q202.2 464.8 201.3 465.0 Q200.4 465.1 199.5 465.7 Q198.7 466.4 197.7 466.5 Q196.7 466.7 195.8 466.1 Q194.8 465.6 193.8 466.0 Q192.7 466.3 192.1 465.3 Q191.4 464.3 190.2 464.5 Q189.0 464.8 188.1 464.3 Q187.2 463.9 186.8 462.9 Q186.4 461.8 185.3 461.5 Q184.2 461.1 183.7 460.2 Q183.1 459.3 182.3 458.6 Q181.6 457.8 181.9 456.6 Q182.2 455.4 181.8 454.5 Q181.4 453.5 181.2 452.5 Q181.0 451.5 181.5 450.5 Q181.9 449.6 182.6 448.7 Q183.3 447.9 184.0 447.2 Q184.7 446.5 184.6 445.5 Q184.5 444.5 185.5 444.0 Q186.4 443.6 186.7 442.7 Q187.0 441.8 188.1 441.8 Q189.3 441.8 189.6 440.8 Q189.9 439.8 190.7 439.2 Q191.4 438.7 192.2 438.1 Q192.9 437.5 193.9 437.8 Q194.9 438.1 195.8 437.5 Q196.7 436.8 197.7 436.9 Q198.6 437.0 199.8 436.4 Q200.9 435.8 201.8 436.4 Q202.7 436.9 203.9 436.9 Q205.2 436.8 205.7 437.9 Q206.3 438.9 207.3 439.5 Q208.2 440.0 208.8 440.8 Q209.5 441.7 209.4 442.9 Q209.3 444.2 209.8 445.0 Q210.3 445.9 210.8 446.7 Q211.2 447.6 210.9 448.6 Q210.5 449.7 210.3 450.6Z" fill="#8f8f8f"/>
<path d="M203.1 450.1 Q203.7 451.5 202.5 452.6 Q201.4 453.8 201.2 455.3 Q201.0 456.9 199.6 457.6 Q198.2 458.2 196.7 458.4 Q195.1 458.5 193.7 457.8 Q192.3 457.1 191.6 455.6 Q191.0 454.2 190.2 452.9 Q189.4 451.5 190.0 450.0 Q190.6 448.6 192.0 447.9 Q193.3 447.3 194.3 446.2 Q195.3 445.2 196.7 445.1 Q198.2 445.1 199.8 445.3 Q201.4 445.6 202.0 447.1 Q202.5 448.7 203.1 450.1Z" fill="#474747"/>
<path d="M197.1 471.5 Q196.6 472.4 197.8 473.4 Q198.9 474.4 197.9 475.2 Q196.9 475.9 197.8 477.2 Q198.6 478.4 198.2 479.3 Q197.7 480.3 197.5 481.3 Q197.2 482.3 196.8 483.3 Q196.3 484.3 194.9 484.4 Q193.6 484.6 192.9 485.2 Q192.2 485.9 191.5 486.7 Q190.9 487.5 189.7 487.4 Q188.6 487.3 187.6 487.4 Q186.7 487.6 185.8 487.6 Q184.9 487.6 184.1 488.3 Q183.3 489.0 182.3 489.0 Q181.4 488.9 180.5 488.7 Q179.6 488.4 178.9 487.6 Q178.1 486.8 177.1 487.3 Q176.0 487.8 175.4 487.0 Q174.7 486.3 174.1 485.6 Q173.5 485.0 172.6 484.7 Q171.7 484.5 171.1 483.9 Q170.4 483.4 170.1 482.5 Q169.8 481.7 168.8 481.3 Q167.8 480.9 167.6 480.1 Q167.3 479.2 166.7 478.5 Q166.2 477.7 165.5 476.9 Q164.9 476.2 165.1 475.2 Q165.3 474.2 165.5 473.3 Q165.7 472.4 165.3 471.5 Q164.8 470.5 164.8 469.6 Q164.8 468.6 165.6 467.9 Q166.3 467.1 166.2 466.1 Q166.0 465.0 167.3 464.6 Q168.5 464.3 168.8 463.5 Q169.1 462.6 169.6 461.8 Q170.1 461.1 170.1 459.7 Q170.2 458.3 171.1 457.9 Q172.0 457.4 172.8 456.8 Q173.6 456.2 174.7 456.3 Q175.8 456.3 176.6 455.8 Q177.5 455.3 178.4 454.7 Q179.3 454.2 180.4 455.1 Q181.4 456.1 182.3 456.2 Q183.2 456.4 184.0 456.9 Q184.9 457.3 185.8 457.3 Q186.7 457.3 187.6 457.5 Q188.5 457.6 189.0 458.5 Q189.5 459.5 190.0 460.2 Q190.5 461.0 191.1 461.6 Q191.6 462.2 191.8 463.0 Q192.0 463.9 193.2 464.1 Q194.4 464.3 194.2 465.3 Q194.1 466.3 194.4 467.0 Q194.7 467.8 195.2 468.5 Q195.6 469.1 196.6 469.9 Q197.5 470.6 197.1 471.5Z" fill="#a9a9a9" opacity="0.8"/>
<path d="M196.5 471.4 Q196.2 472.4 196.4 473.4 Q196.5 474.4 196.4 475.4 Q196.2 476.4 195.9 477.3 Q195.6 478.3 195.1 479.2 Q194.7 480.1 194.1 480.8 Q193.4 481.6 192.8 482.4 Q192.1 483.1 191.6 484.1 Q191.1 485.1 190.1 485.3 Q189.0 485.6 188.2 486.2 Q187.4 486.9 186.4 487.2 Q185.4 487.5 184.4 487.6 Q183.4 487.7 182.4 487.7 Q181.4 487.6 180.5 486.8 Q179.6 485.9 178.8 485.6 Q178.0 485.3 177.0 485.3 Q176.0 485.3 175.3 484.8 Q174.6 484.2 174.0 483.5 Q173.5 482.8 172.4 482.6 Q171.4 482.4 170.5 481.9 Q169.6 481.5 168.9 480.8 Q168.1 480.1 168.0 479.0 Q167.8 478.0 167.2 477.2 Q166.5 476.4 166.3 475.4 Q166.2 474.4 165.1 473.4 Q164.0 472.4 164.6 471.3 Q165.3 470.3 165.0 469.1 Q164.8 468.0 165.4 467.0 Q166.0 466.0 166.6 465.1 Q167.2 464.2 168.0 463.5 Q168.8 462.8 169.5 462.0 Q170.2 461.2 171.3 460.9 Q172.3 460.6 173.4 460.5 Q174.4 460.3 175.4 460.3 Q176.3 460.2 177.1 459.7 Q177.9 459.2 178.7 458.7 Q179.5 458.2 180.5 458.8 Q181.4 459.4 182.3 458.9 Q183.2 458.3 184.2 458.4 Q185.1 458.5 185.9 459.1 Q186.7 459.6 187.6 459.8 Q188.5 460.1 189.7 460.1 Q190.8 460.2 191.5 460.9 Q192.1 461.7 192.8 462.4 Q193.5 463.1 194.1 463.9 Q194.8 464.7 194.9 465.7 Q195.0 466.7 195.9 467.5 Q196.7 468.3 196.7 469.3 Q196.8 470.4 196.5 471.4Z" fill="#8a8a8a"/>
<path d="M188.4 470.8 Q188.6 472.4 188.0 473.8 Q187.4 475.3 186.3 476.2 Q185.2 477.1 183.9 477.7 Q182.7 478.2 181.3 478.8 Q179.8 479.4 178.1 479.0 Q176.4 478.7 176.0 476.9 Q175.7 475.2 175.1 473.8 Q174.6 472.4 175.2 471.1 Q175.8 469.7 176.5 468.4 Q177.1 467.0 178.5 466.4 Q179.9 465.9 181.3 466.4 Q182.7 466.8 184.0 467.2 Q185.3 467.5 186.7 468.4 Q188.1 469.2 188.4 470.8Z" fill="#434343"/>
<path d="M256.0 419.6 Q266.1 418.4 274.4 418.3" stroke="#8787c4" stroke-width="2" fill="none" stroke-linecap="round"/>
<path d="M256.0 419.6 Q262.7 425.5 267.0 431.5" stroke="#8787c4" stroke-width="2" fill="none" stroke-linecap="round"/>
<path d="M256.0 419.6 Q257.5 429.2 258.8 437.0" stroke="#8787c4" stroke-width="2" fill="none" stroke-linecap="round"/>
<path d="M256.0 419.6 Q254.9 427.9 254.6 434.8" stroke="#8787c4" stroke-width="2" fill="none" stroke-linecap="round"/>
<path d="M256.0 419.6 Q248.4 423.6 241.6 425.4" stroke="#8787c4" stroke-width="2" fill="none" stroke-linecap="round"/>
<path d="M256.0 419.6 Q247.4 422.2 241.3 426.8" stroke="#8787c4" stroke-width="2" fill="none" stroke-linecap="round"/>
<path d="M256.0 419.6 Q250.5 410.9 248.2 402.6" stroke="#8787c4" stroke-width="2" fill="none" stroke-linecap="round"/>
<path d="M256.0 419.6 Q253.4 411.6 250.4 405.3" stroke="#8787c4" stroke-width="2" fill="none" stroke-linecap="round"/>
<path d="M256.0 419.6 Q259.9 411.9 265.3 406.9" stroke="#8787c4" stroke-width="2" fill="none" stroke-linecap="round"/>
<path d="M256.0 419.6 Q263.3 414.8 270.2 412.4" stroke="#8787c4" stroke-width="2" fill="none" stroke-linecap="round"/>
<circle cx="256" cy="419.6" r="9.5" fill="#8a8ac6"/>
<circle cx="256" cy="419.6" r="5.5" fill="#5f5fa6"/>
<path d="M236.3 431.6 Q245.5 432.2 252.9 429.9" stroke="#8787c4" stroke-width="2" fill="none" stroke-linecap="round"/>
<path d="M236.3 431.6 Q243.1 437.9 250.1 441.3" stroke="#8787c4" stroke-width="2" fill="none" stroke-linecap="round"/>
<path d="M236.3 431.6 Q237.3 441.3 235.7 449.3" stroke="#8787c4" stroke-width="2" fill="none" stroke-linecap="round"/>
<path d="M236.3 431.6 Q235.0 443.0 235.2 452.4" stroke="#8787c4" stroke-width="2" fill="none" stroke-linecap="round"/>
<path d="M236.3 431.6 Q226.4 437.2 217.7 440.6" stroke="#8787c4" stroke-width="2" fill="none" stroke-linecap="round"/>
<path d="M236.3 431.6 Q225.6 431.0 216.9 433.6" stroke="#8787c4" stroke-width="2" fill="none" stroke-linecap="round"/>
<path d="M236.3 431.6 Q228.7 424.5 221.6 419.6" stroke="#8787c4" stroke-width="2" fill="none" stroke-linecap="round"/>
<path d="M236.3 431.6 Q231.6 421.5 228.2 413.0" stroke="#8787c4" stroke-width="2" fill="none" stroke-linecap="round"/>
<path d="M236.3 431.6 Q243.3 423.2 251.3 418.6" stroke="#8787c4" stroke-width="2" fill="none" stroke-linecap="round"/>
<path d="M236.3 431.6 Q245.4 425.9 253.2 422.0" stroke="#8787c4" stroke-width="2" fill="none" stroke-linecap="round"/>
<circle cx="236.3" cy="431.6" r="10" fill="#8a8ac6"/>
<circle cx="236.3" cy="431.6" r="5.8" fill="#5f5fa6"/>
<path d="M120.4 346.0 L124.0 349.6 L120.4 353.2 L116.8 349.6Z" fill="#5a79a3" stroke="#3f5f8a" stroke-width="0.5"/>
<path d="M121.8 360.7 L125.4 364.3 L121.8 367.9 L118.2 364.3Z" fill="#5a79a3" stroke="#3f5f8a" stroke-width="0.5"/>
<path d="M117.4 376.8 L121.0 380.4 L117.4 384.0 L113.8 380.4Z" fill="#5a79a3" stroke="#3f5f8a" stroke-width="0.5"/>
<path d="M141.0 391.4 L144.6 395.0 L141.0 398.6 L137.4 395.0Z" fill="#5a79a3" stroke="#3f5f8a" stroke-width="0.5"/>
<path d="M161.4 339.4 L165.0 343.0 L161.4 346.6 L157.8 343.0Z" fill="#5a79a3" stroke="#3f5f8a" stroke-width="0.5"/>
<path d="M168.8 349.8 L172.4 353.4 L168.8 357.0 L165.2 353.4Z" fill="#5a79a3" stroke="#3f5f8a" stroke-width="0.5"/>
<path d="M167.3 384.1 L170.9 387.7 L167.3 391.3 L163.7 387.7Z" fill="#5a79a3" stroke="#3f5f8a" stroke-width="0.5"/>
<path d="M162.9 414.9 L166.5 418.5 L162.9 422.1 L159.3 418.5Z" fill="#5a79a3" stroke="#3f5f8a" stroke-width="0.5"/>
<path d="M171.7 428.1 L175.3 431.7 L171.7 435.3 L168.1 431.7Z" fill="#5a79a3" stroke="#3f5f8a" stroke-width="0.5"/>
<path d="M215.7 335.7 L219.3 339.3 L215.7 342.9 L212.1 339.3Z" fill="#5a79a3" stroke="#3f5f8a" stroke-width="0.5"/>
<path d="M219.5 365.9 L223.1 369.5 L219.5 373.1 L215.9 369.5Z" fill="#5a79a3" stroke="#3f5f8a" stroke-width="0.5"/>
<path d="M223.0 397.4 L226.6 401.0 L223.0 404.6 L219.4 401.0Z" fill="#5a79a3" stroke="#3f5f8a" stroke-width="0.5"/>
<text x="61" y="386" font-size="11" fill="#222">Epidermis</text>
<text x="61" y="424" font-size="11" fill="#222">Dermis</text>
<text x="61" y="493" font-size="11.3" fill="#d2814f">Cutaneous melanoma</text>
</g>
<path d="M255 395 L343 311" stroke="#b3abab" stroke-width="1.1" stroke-dasharray="5 4" fill="none"/>
<path d="M273 424 L325 431" stroke="#b3abab" stroke-width="1.1" stroke-dasharray="5 4" fill="none"/>
<radialGradient id="bm2" gradientUnits="userSpaceOnUse" cx="73.4" cy="514.8" r="55"><stop offset="0.2" stop-color="#f1c12e" stop-opacity="0.95"/><stop offset="0.6" stop-color="#f6dc82" stop-opacity="0.5"/><stop offset="1" stop-color="#fff6dc" stop-opacity="0"/></radialGradient>
<path d="M66 527 L84 520 L120 545 L82 562Z" fill="url(#bm2)"/>
<g transform="translate(73.4 514.8)">
<circle r="14.8" fill="#f1c12e" stroke="#3b3422" stroke-width="1.04"/>
<path d="M-5.48 -0.00 L-12.88 -0.00 A12.88 12.88 0 0 1 -6.44 -11.15 L-2.74 -4.74 A5.48 5.48 0 0 0 -5.48 -0.00Z" fill="#22201c"/>
<path d="M2.74 -4.74 L6.44 -11.15 A12.88 12.88 0 0 1 12.88 0.00 L5.48 0.00 A5.48 5.48 0 0 0 2.74 -4.74Z" fill="#22201c"/>
<path d="M2.74 4.74 L6.44 11.15 A12.88 12.88 0 0 1 -6.44 11.15 L-2.74 4.74 A5.48 5.48 0 0 0 2.74 4.74Z" fill="#22201c"/>
<circle r="3.85" fill="#22201c"/>
</g>
<g id="cell" fill="#a8aaa9">
<ellipse cx="351.5" cy="284" rx="27.5" ry="22.5" transform="rotate(42 351.5 284)"/>
<ellipse cx="423.5" cy="262" rx="8.5" ry="11"/>
<path d="M528 281 C526 272 535 265 546 265 C552 265 557 267 556 271 C553 280 545 287 536 288 C531 288 528 285 528 281Z"/>
<ellipse cx="573.5" cy="363.5" rx="13.5" ry="17.5" transform="rotate(18 573.5 363.5)"/>
<path d="M377 500 C378 488 395 481 412 482 C425 483 431 490 429 498 C426 508 412 514 396 514 C384 514 376 508 377 500Z"/>
<path d="M331 336 C333 329 345 325 362 325.5 C382 327 398 334 409 333 C411 327 398 312 394 304 C396 297 420 294 448 294 C458 293 466 292 466 282 C463 270 463 258 472 253 C482 251 505 250 511 262 C515 275 508 288 505 300 C506 312 520 322 540 330 C552 336 556 345 551 357 C546 370 546 385 540 396 C530 406 510 418 505 432 C508 445 528 455 531 466 C530 480 518 486 500 487 C485 488 468 482 457 467 C450 455 448 438 440 428 C430 422 418 424 408 436 C398 450 380 470 360 475 C340 476 326 466 323 450 C322 435 335 420 350 406 C356 398 358 392 355 388 C345 380 337 370 333 355 C331 346 330 340 331 336Z"/>
</g>
<circle cx="449.6" cy="311.6" r="3" fill="#8e8e8e"/>
<circle cx="538.3" cy="408.5" r="8" fill="#a8aaa9"/>
<path d="M513.6 375.4 L512.8 377.8 L511.9 380.1 L510.8 382.4 L509.6 384.6 L508.3 386.7 L506.8 388.7 L505.2 390.7 L503.5 392.5 L501.6 394.3 L499.6 395.9 L497.6 397.4" fill="none" stroke="#8092a9" stroke-width="4.4" stroke-linecap="round"/>
<path d="M513.6 375.4 L512.8 377.8 L511.9 380.1 L510.8 382.4 L509.6 384.6 L508.3 386.7 L506.8 388.7 L505.2 390.7 L503.5 392.5 L501.6 394.3 L499.6 395.9 L497.6 397.4" fill="none" stroke="#a6b3c2" stroke-width="2" stroke-linecap="round"/>
<path d="M494.8 399.2 L492.2 400.6 L489.5 401.8 L486.8 402.8 L483.9 403.6 L481.1 404.3 L478.1 404.7 L475.2 404.9 L472.2 405.0 L469.3 404.8 L466.4 404.5 L463.5 404.0" fill="none" stroke="#8092a9" stroke-width="4.4" stroke-linecap="round"/>
<path d="M494.8 399.2 L492.2 400.6 L489.5 401.8 L486.8 402.8 L483.9 403.6 L481.1 404.3 L478.1 404.7 L475.2 404.9 L472.2 405.0 L469.3 404.8 L466.4 404.5 L463.5 404.0" fill="none" stroke="#a6b3c2" stroke-width="2" stroke-linecap="round"/>
<path d="M460.3 403.1 L457.6 402.2 L454.9 401.1 L452.3 399.8 L449.8 398.4 L447.5 396.7 L445.2 395.0 L443.1 393.1 L441.1 391.0 L439.3 388.8 L437.6 386.6 L436.1 384.2" fill="none" stroke="#8092a9" stroke-width="4.4" stroke-linecap="round"/>
<path d="M460.3 403.1 L457.6 402.2 L454.9 401.1 L452.3 399.8 L449.8 398.4 L447.5 396.7 L445.2 395.0 L443.1 393.1 L441.1 391.0 L439.3 388.8 L437.6 386.6 L436.1 384.2" fill="none" stroke="#a6b3c2" stroke-width="2" stroke-linecap="round"/>
<path d="M435.3 382.7 L434.9 381.9 L434.6 381.1 L434.2 380.3 L433.9 379.5 L433.5 378.7 L433.2 377.9 L433.0 377.1 L432.7 376.2 L432.4 375.4 L432.2 374.6 L432.0 373.7" fill="none" stroke="#8092a9" stroke-width="4.4" stroke-linecap="round"/>
<path d="M435.3 382.7 L434.9 381.9 L434.6 381.1 L434.2 380.3 L433.9 379.5 L433.5 378.7 L433.2 377.9 L433.0 377.1 L432.7 376.2 L432.4 375.4 L432.2 374.6 L432.0 373.7" fill="none" stroke="#a6b3c2" stroke-width="2" stroke-linecap="round"/>
<path d="M519.8 376.9 L518.8 379.9 L517.6 382.8 L516.2 385.6 L514.6 388.4 L512.8 391.0 L510.8 393.5 L508.6 395.9 L506.3 398.1 L503.8 400.2 L501.1 402.1 L498.4 403.8" fill="none" stroke="#8092a9" stroke-width="4.4" stroke-linecap="round"/>
<path d="M519.8 376.9 L518.8 379.9 L517.6 382.8 L516.2 385.6 L514.6 388.4 L512.8 391.0 L510.8 393.5 L508.6 395.9 L506.3 398.1 L503.8 400.2 L501.1 402.1 L498.4 403.8" fill="none" stroke="#a6b3c2" stroke-width="2" stroke-linecap="round"/>
<path d="M496.5 404.8 L494.3 405.9 L492.0 406.9 L489.7 407.7 L487.4 408.5 L485.0 409.1 L482.6 409.6 L480.1 410.0 L477.7 410.3 L475.2 410.5 L472.7 410.5 L470.3 410.4" fill="none" stroke="#8092a9" stroke-width="4.4" stroke-linecap="round"/>
<path d="M496.5 404.8 L494.3 405.9 L492.0 406.9 L489.7 407.7 L487.4 408.5 L485.0 409.1 L482.6 409.6 L480.1 410.0 L477.7 410.3 L475.2 410.5 L472.7 410.5 L470.3 410.4" fill="none" stroke="#a6b3c2" stroke-width="2" stroke-linecap="round"/>
<path d="M467.7 410.2 L465.1 409.9 L462.6 409.4 L460.0 408.8 L457.5 408.1 L455.1 407.3 L452.7 406.3 L450.3 405.2 L448.0 404.0 L445.8 402.7 L443.7 401.2 L441.6 399.7" fill="none" stroke="#8092a9" stroke-width="4.4" stroke-linecap="round"/>
<path d="M467.7 410.2 L465.1 409.9 L462.6 409.4 L460.0 408.8 L457.5 408.1 L455.1 407.3 L452.7 406.3 L450.3 405.2 L448.0 404.0 L445.8 402.7 L443.7 401.2 L441.6 399.7" fill="none" stroke="#a6b3c2" stroke-width="2" stroke-linecap="round"/>
<path d="M439.2 397.6 L438.1 396.6 L437.0 395.5 L436.0 394.4 L435.0 393.2 L434.0 392.1 L433.1 390.9 L432.2 389.6 L431.4 388.4 L430.6 387.1 L429.9 385.8 L429.2 384.5" fill="none" stroke="#8092a9" stroke-width="4.4" stroke-linecap="round"/>
<path d="M439.2 397.6 L438.1 396.6 L437.0 395.5 L436.0 394.4 L435.0 393.2 L434.0 392.1 L433.1 390.9 L432.2 389.6 L431.4 388.4 L430.6 387.1 L429.9 385.8 L429.2 384.5" fill="none" stroke="#a6b3c2" stroke-width="2" stroke-linecap="round"/>
<path d="M428.2 382.4 L427.9 381.7 L427.6 381.1 L427.4 380.4 L427.1 379.7 L426.9 379.0 L426.6 378.4 L426.4 377.7 L426.2 377.0 L426.0 376.3 L425.8 375.6 L425.7 374.9" fill="none" stroke="#8092a9" stroke-width="4.4" stroke-linecap="round"/>
<path d="M428.2 382.4 L427.9 381.7 L427.6 381.1 L427.4 380.4 L427.1 379.7 L426.9 379.0 L426.6 378.4 L426.4 377.7 L426.2 377.0 L426.0 376.3 L425.8 375.6 L425.7 374.9" fill="none" stroke="#a6b3c2" stroke-width="2" stroke-linecap="round"/>
<path d="M525.9 378.9 L525.3 380.8 L524.6 382.6 L523.8 384.5 L523.0 386.3 L522.1 388.0 L521.1 389.7 L520.0 391.4 L518.9 393.1 L517.7 394.7 L516.4 396.3 L515.1 397.8" fill="none" stroke="#8092a9" stroke-width="4.4" stroke-linecap="round"/>
<path d="M525.9 378.9 L525.3 380.8 L524.6 382.6 L523.8 384.5 L523.0 386.3 L522.1 388.0 L521.1 389.7 L520.0 391.4 L518.9 393.1 L517.7 394.7 L516.4 396.3 L515.1 397.8" fill="none" stroke="#a6b3c2" stroke-width="2" stroke-linecap="round"/>
<path d="M512.2 400.8 L510.7 402.1 L509.2 403.4 L507.6 404.7 L506.0 405.8 L504.3 406.9 L502.6 408.0 L500.8 409.0 L499.0 409.9 L497.2 410.8 L495.3 411.6 L493.4 412.4" fill="none" stroke="#8092a9" stroke-width="4.4" stroke-linecap="round"/>
<path d="M512.2 400.8 L510.7 402.1 L509.2 403.4 L507.6 404.7 L506.0 405.8 L504.3 406.9 L502.6 408.0 L500.8 409.0 L499.0 409.9 L497.2 410.8 L495.3 411.6 L493.4 412.4" fill="none" stroke="#a6b3c2" stroke-width="2" stroke-linecap="round"/>
<path d="M489.7 413.6 L487.8 414.1 L485.8 414.6 L483.8 415.0 L481.8 415.3 L479.8 415.6 L477.8 415.8 L475.8 415.9 L473.7 416.0 L471.7 416.0 L469.7 415.9 L467.6 415.8" fill="none" stroke="#8092a9" stroke-width="4.4" stroke-linecap="round"/>
<path d="M489.7 413.6 L487.8 414.1 L485.8 414.6 L483.8 415.0 L481.8 415.3 L479.8 415.6 L477.8 415.8 L475.8 415.9 L473.7 416.0 L471.7 416.0 L469.7 415.9 L467.6 415.8" fill="none" stroke="#a6b3c2" stroke-width="2" stroke-linecap="round"/>
<path d="M465.4 415.5 L461.8 414.9 L458.2 414.1 L454.6 413.1 L451.2 411.8 L447.8 410.3 L444.6 408.7 L441.5 406.8 L438.5 404.7 L435.7 402.5 L433.1 400.1 L430.6 397.5" fill="none" stroke="#8092a9" stroke-width="4.4" stroke-linecap="round"/>
<path d="M465.4 415.5 L461.8 414.9 L458.2 414.1 L454.6 413.1 L451.2 411.8 L447.8 410.3 L444.6 408.7 L441.5 406.8 L438.5 404.7 L435.7 402.5 L433.1 400.1 L430.6 397.5" fill="none" stroke="#a6b3c2" stroke-width="2" stroke-linecap="round"/>
<path d="M428.9 395.5 L427.7 393.9 L426.5 392.3 L425.4 390.6 L424.4 388.9 L423.5 387.1 L422.6 385.4 L421.8 383.6 L421.1 381.7 L420.4 379.9 L419.8 378.0 L419.3 376.1" fill="none" stroke="#8092a9" stroke-width="4.4" stroke-linecap="round"/>
<path d="M428.9 395.5 L427.7 393.9 L426.5 392.3 L425.4 390.6 L424.4 388.9 L423.5 387.1 L422.6 385.4 L421.8 383.6 L421.1 381.7 L420.4 379.9 L419.8 378.0 L419.3 376.1" fill="none" stroke="#a6b3c2" stroke-width="2" stroke-linecap="round"/>
<path d="M531.5 380.9 L530.7 383.2 L529.8 385.5 L528.7 387.7 L527.6 390.0 L526.4 392.1 L525.0 394.2 L523.6 396.3 L522.1 398.3 L520.4 400.2 L518.7 402.1 L516.9 403.9" fill="none" stroke="#8092a9" stroke-width="4.4" stroke-linecap="round"/>
<path d="M531.5 380.9 L530.7 383.2 L529.8 385.5 L528.7 387.7 L527.6 390.0 L526.4 392.1 L525.0 394.2 L523.6 396.3 L522.1 398.3 L520.4 400.2 L518.7 402.1 L516.9 403.9" fill="none" stroke="#a6b3c2" stroke-width="2" stroke-linecap="round"/>
<path d="M513.0 407.3 L510.5 409.2 L507.8 411.0 L505.1 412.6 L502.2 414.2 L499.3 415.5 L496.3 416.8 L493.2 417.8 L490.1 418.8 L486.9 419.5 L483.7 420.1 L480.5 420.6" fill="none" stroke="#8092a9" stroke-width="4.4" stroke-linecap="round"/>
<path d="M513.0 407.3 L510.5 409.2 L507.8 411.0 L505.1 412.6 L502.2 414.2 L499.3 415.5 L496.3 416.8 L493.2 417.8 L490.1 418.8 L486.9 419.5 L483.7 420.1 L480.5 420.6" fill="none" stroke="#a6b3c2" stroke-width="2" stroke-linecap="round"/>
<path d="M476.0 420.9 L473.5 421.0 L471.1 421.0 L468.6 420.9 L466.2 420.6 L463.8 420.4 L461.3 420.0 L458.9 419.5 L456.6 418.9 L454.2 418.3 L451.9 417.5 L449.6 416.7" fill="none" stroke="#8092a9" stroke-width="4.4" stroke-linecap="round"/>
<path d="M476.0 420.9 L473.5 421.0 L471.1 421.0 L468.6 420.9 L466.2 420.6 L463.8 420.4 L461.3 420.0 L458.9 419.5 L456.6 418.9 L454.2 418.3 L451.9 417.5 L449.6 416.7" fill="none" stroke="#a6b3c2" stroke-width="2" stroke-linecap="round"/>
<path d="M444.8 414.7 L441.6 413.0 L438.5 411.2 L435.6 409.2 L432.7 407.1 L430.1 404.8 L427.5 402.3 L425.2 399.8 L423.0 397.1 L421.0 394.3 L419.2 391.3 L417.5 388.3" fill="none" stroke="#8092a9" stroke-width="4.4" stroke-linecap="round"/>
<path d="M444.8 414.7 L441.6 413.0 L438.5 411.2 L435.6 409.2 L432.7 407.1 L430.1 404.8 L427.5 402.3 L425.2 399.8 L423.0 397.1 L421.0 394.3 L419.2 391.3 L417.5 388.3" fill="none" stroke="#a6b3c2" stroke-width="2" stroke-linecap="round"/>
<path d="M415.5 383.7 L415.3 383.2 L415.1 382.6 L414.9 382.0 L414.7 381.4 L414.5 380.8 L414.3 380.2 L414.1 379.6 L413.9 379.0 L413.8 378.4 L413.6 377.8 L413.5 377.2" fill="none" stroke="#8092a9" stroke-width="4.4" stroke-linecap="round"/>
<path d="M415.5 383.7 L415.3 383.2 L415.1 382.6 L414.9 382.0 L414.7 381.4 L414.5 380.8 L414.3 380.2 L414.1 379.6 L413.9 379.0 L413.8 378.4 L413.6 377.8 L413.5 377.2" fill="none" stroke="#a6b3c2" stroke-width="2" stroke-linecap="round"/>
<circle cx="531.9" cy="365.5" r="7.5" fill="#8b8b8b"/>
<ellipse cx="473" cy="359" rx="41.5" ry="39" fill="none" stroke="#383838" stroke-width="1.6" stroke-dasharray="4.4 3.4"/>
<rect x="464.6" y="289.4" width="38" height="19.6" rx="3.5" fill="#dfe9e4"/>
<text x="471" y="304.3" font-size="12.6" fill="#222">IRF3</text>
<rect x="464.6" y="333" width="36.3" height="21.4" rx="3.5" fill="#dfe9e4"/>
<text x="470.5" y="348.5" font-size="12.6" fill="#222">IRF3</text>
<ellipse cx="432" cy="321" rx="19.2" ry="10.2" fill="#f1efc6"/>
<text x="418" y="325.8" font-size="12" fill="#222">TBK1</text>
<g transform="translate(379 362) rotate(15)"><rect x="-17.5" y="-7.5" width="35" height="15" rx="5" fill="#f3dde1"/><text x="0" y="4" font-size="10.5" text-anchor="middle" fill="#333">STING</text></g>
<g transform="translate(414.3 355.3) rotate(-30)"><rect x="-17.5" y="-7.5" width="35" height="15" rx="5" fill="#f3dde1"/><text x="0" y="4" font-size="10.5" text-anchor="middle" fill="#333">STING</text></g>
<path d="M377 378 C381 372 384 380 388 378 C392 376 390 384 394 384 C396 383 397 381 397 380" fill="none" stroke="#8a7475" stroke-width="1"/>
<path d="M404 378 C408 382 410 372 414 374 C417 376 416 370 421 369" fill="none" stroke="#c76a78" stroke-width="1.2"/>
<path d="M453.9 383.9 L452.0 379.3 M456.8 383.8 L454.1 377.3 M458.9 381.8 L457.1 377.2 M460.5 378.5 L460.5 378.5 M462.1 375.2 L464.0 379.8 M464.3 373.2 L466.9 379.7 M467.2 373.1 L469.0 377.7 M470.6 374.4 L470.6 374.4 M474.1 375.7 L472.2 371.1 M477.0 375.6 L474.4 369.1 M479.1 373.6 L477.3 369.1 M480.7 370.3 L480.7 370.3 M482.3 367.0 L484.2 371.6 M484.5 365.0 L487.1 371.5 M487.4 365.0 L489.3 369.6 M490.9 366.2 L490.9 366.2" stroke="#b9c2d8" stroke-width="0.6" fill="none"/><path d="M450.4 382.6 L452.0 383.2 L453.5 383.8 L454.9 384.0 L456.1 384.0 L457.3 383.6 L458.2 382.7 L459.1 381.6 L459.8 380.2 L460.5 378.7 L461.1 377.1 L461.8 375.7 L462.6 374.5 L463.6 373.6 L464.7 373.1 L465.9 373.0 L467.3 373.2 L468.8 373.7 L470.3 374.3 L471.9 375.0 L473.4 375.5 L474.8 375.8 L476.1 375.8 L477.3 375.5 L478.3 374.7 L479.1 373.6 L479.9 372.3 L480.6 370.8 L481.2 369.2 L481.9 367.7 L482.7 366.5 L483.6 365.5 L484.7 365.0 L485.9 364.8 L487.3 364.9 L488.7 365.4 L490.3 366.0 L491.8 366.7 L493.4 367.2 L494.8 367.6 L496.1 367.7" stroke="#d0404a" stroke-width="1.4" fill="none"/><path d="M450.4 382.6 L451.1 381.1 L451.8 379.6 L452.6 378.5 L453.6 377.6 L454.7 377.1 L455.9 377.1 L457.3 377.3 L458.8 377.8 L460.4 378.4 L461.9 379.1 L463.4 379.6 L464.9 379.9 L466.1 379.9 L467.3 379.5 L468.3 378.7 L469.1 377.6 L469.8 376.2 L470.5 374.7 L471.2 373.1 L471.9 371.7 L472.7 370.5 L473.6 369.6 L474.7 369.0 L475.9 368.9 L477.3 369.1 L478.8 369.5 L480.3 370.1 L481.9 370.8 L483.4 371.4 L484.8 371.7 L486.1 371.8 L487.3 371.4 L488.3 370.7 L489.2 369.7 L489.9 368.3 L490.6 366.8 L491.3 365.2 L492.0 363.8 L492.8 362.5 L493.7 361.5" stroke="#2f6fb5" stroke-width="1.4" fill="none"/>
<polygon points="482.1,375.7 477.4,383.9 467.9,383.9 463.1,375.7 467.9,367.5 477.4,367.5" fill="#f9d8b6" stroke="#f0c8a0" stroke-width="0.5"/>
<circle cx="472.3" cy="413.1" r="6.4" fill="url(#gOr)"/>
<circle cx="480.6" cy="413.1" r="3.8" fill="url(#gOr)"/>
<ellipse cx="377" cy="423" rx="30" ry="20" fill="url(#cgasG)" transform="rotate(-15 377 423)"/>
<ellipse cx="377" cy="424" rx="21" ry="14" fill="#93afe0" opacity="0.6" transform="rotate(-15 377 424)"/>
<path d="M355.3 431.7 L353.7 426.0 M358.1 432.2 L355.9 424.1 M360.3 430.4 L358.7 424.6 M362.0 426.8 L362.0 426.8 M363.7 423.3 L365.3 429.1 M365.9 421.5 L368.1 429.6 M368.7 422.0 L370.3 427.7 M372.0 424.2 L372.0 424.2 M375.3 426.4 L373.7 420.7 M378.1 426.9 L375.9 418.8 M380.3 425.1 L378.7 419.3 M382.0 421.5 L382.0 421.5 M383.7 418.0 L385.3 423.7 M385.9 416.2 L388.1 424.3 M388.7 416.7 L390.3 422.4 M392.0 418.9 L392.0 418.9 M395.3 421.1 L393.7 415.4 M398.1 421.6 L395.9 413.5 M400.3 419.8 L398.7 414.0" stroke="#b9c2d8" stroke-width="0.6" fill="none"/><path d="M352.0 429.5 L353.7 430.8 L355.4 431.8 L356.9 432.3 L358.3 432.2 L359.5 431.4 L360.5 430.0 L361.4 428.2 L362.3 426.2 L363.2 424.3 L364.1 422.8 L365.2 421.7 L366.5 421.4 L368.0 421.7 L369.6 422.5 L371.3 423.7 L373.1 425.0 L374.8 426.1 L376.3 426.8 L377.8 427.0 L379.0 426.5 L380.1 425.3 L381.1 423.6 L381.9 421.7 L382.8 419.7 L383.7 418.0 L384.8 416.8 L386.0 416.1 L387.4 416.2 L389.0 416.8 L390.7 417.9 L392.4 419.2 L394.1 420.4 L395.8 421.3 L397.2 421.7 L398.6 421.4 L399.7 420.5 L400.7 419.0 L401.6 417.2 L402.5 415.2 L403.4 413.3" stroke="#d0404a" stroke-width="1.4" fill="none"/><path d="M352.0 429.5 L352.9 427.5 L353.8 425.9 L354.9 424.6 L356.1 424.1 L357.5 424.2 L359.1 424.8 L360.8 426.0 L362.5 427.2 L364.2 428.5 L365.9 429.3 L367.4 429.7 L368.7 429.3 L369.8 428.4 L370.8 426.8 L371.7 425.0 L372.5 423.0 L373.4 421.1 L374.5 419.7 L375.6 418.9 L377.0 418.7 L378.5 419.2 L380.1 420.2 L381.9 421.4 L383.6 422.7 L385.3 423.7 L386.8 424.3 L388.2 424.2 L389.4 423.5 L390.4 422.2 L391.3 420.4 L392.2 418.4 L393.1 416.5 L394.0 414.9 L395.2 413.8 L396.4 413.4 L397.9 413.7 L399.5 414.5 L401.2 415.6 L402.9 416.9 L404.6 418.1" stroke="#2f6fb5" stroke-width="1.4" fill="none"/>
<text x="371" y="435" font-size="9" fill="#2a3d7a" transform="rotate(-12 381 430)">cGAS</text>
<circle cx="358.5" cy="396.5" r="3.6" fill="url(#gMnL)"/>
<circle cx="333.7" cy="415.7" r="3.6" fill="url(#gMnD)"/>
<circle cx="369.5" cy="410" r="3.6" fill="url(#gMnD)"/>
<circle cx="350" cy="423" r="3.6" fill="url(#gMnL)"/>
<circle cx="374" cy="438.6" r="3.6" fill="url(#gMnD)"/>
<circle cx="336.5" cy="443" r="3.6" fill="url(#gMnD)"/>
<circle cx="355.7" cy="454" r="3.6" fill="url(#gMnD)"/>
<circle cx="372" cy="468" r="3.6" fill="url(#gMnL)"/>
<text x="317.5" y="413" font-size="12" fill="#222">Mn<tspan font-size="7" dy="-5">2+</tspan></text>
<path d="M505 500 Q580 585 651.5 601" stroke="#c9c09a" stroke-width="1.4" stroke-dasharray="4 4" fill="none"/>
<path d="M561 504 Q585 585 651.5 593" stroke="#c9c09a" stroke-width="1.4" stroke-dasharray="4 4" fill="none"/>
<path d="M492 423 L548 492" stroke="#b8b48a" stroke-width="1" stroke-dasharray="3 3" fill="none" opacity="0.6"/>
<circle cx="499.5" cy="491" r="6" fill="url(#gOr)"/>
<text x="466" y="498" font-size="13" fill="#222">CRT</text>
<text x="505.9" y="470.7" font-size="11" fill="#333">HMGB1 shuttled</text>
<text x="530.6" y="484.5" font-size="11" fill="#333">dsDNA</text>
<path d="M542.9 499.6 L541.3 494.9 M545.6 499.8 L543.4 493.1 M547.6 498.0 L546.1 493.3 M549.3 494.9 L549.3 494.9 M550.9 491.7 L552.4 496.4 M553.0 490.0 L555.1 496.6 M555.7 490.2 L557.2 494.9 M558.8 491.7 L558.8 491.7 M562.0 493.3 L560.5 488.6 M564.7 493.5 L562.5 486.8 M566.8 491.7 L565.2 487.0 M568.4 488.6 L568.4 488.6 M570.0 485.5 L571.6 490.2 M572.1 483.7 L574.3 490.4 M574.8 483.9 L576.3 488.6 M578.0 485.5 L578.0 485.5 M581.1 487.0 L579.6 482.3" stroke="#b9c2d8" stroke-width="0.6" fill="none"/><path d="M539.7 498.0 L541.2 498.8 L542.6 499.5 L544.0 499.9 L545.2 499.9 L546.3 499.4 L547.2 498.6 L548.0 497.4 L548.8 495.9 L549.5 494.4 L550.2 492.9 L551.0 491.6 L551.9 490.6 L552.9 490.0 L554.1 489.8 L555.4 490.1 L556.8 490.6 L558.2 491.4 L559.7 492.2 L561.2 493.0 L562.6 493.5 L563.9 493.6 L565.0 493.4 L566.0 492.7 L566.8 491.6 L567.6 490.3 L568.3 488.7 L569.0 487.2 L569.8 485.8 L570.7 484.7 L571.6 483.9 L572.7 483.6 L574.0 483.7 L575.3 484.1 L576.8 484.8 L578.3 485.7 L579.8 486.5 L581.2 487.1 L582.5 487.4 L583.7 487.3 L584.7 486.8" stroke="#d0404a" stroke-width="1.4" fill="none"/><path d="M539.7 498.0 L540.4 496.5 L541.2 495.1 L542.0 494.0 L543.0 493.3 L544.1 493.0 L545.4 493.1 L546.8 493.6 L548.2 494.3 L549.7 495.1 L551.2 495.9 L552.6 496.5 L553.9 496.8 L555.1 496.6 L556.1 496.1 L557.0 495.1 L557.8 493.8 L558.6 492.3 L559.3 490.8 L560.0 489.3 L560.8 488.1 L561.7 487.2 L562.8 486.8 L564.0 486.7 L565.4 487.1 L566.8 487.7 L568.3 488.5 L569.8 489.4 L571.2 490.0 L572.5 490.4 L573.8 490.5 L574.9 490.1 L575.8 489.3 L576.7 488.1 L577.4 486.7 L578.1 485.1 L578.8 483.6 L579.6 482.3 L580.5 481.3 L581.5 480.6 L582.7 480.4" stroke="#2f6fb5" stroke-width="1.4" fill="none"/>
<polygon points="571.6,491.8 567.1,499.6 558.1,499.6 553.6,491.8 558.1,484.0 567.1,484.0" fill="#f8d5b2" stroke="#f0c8a0" stroke-width="0.5"/>
<g id="dcg">
<path d="M640.0 615.0 C644.7 613.4 650.1 612.7 653.0 610.5 C655.9 608.3 657.5 605.4 657.5 601.8 C657.5 598.2 654.1 591.4 653.0 588.7 C651.9 586.0 649.2 586.9 651.0 585.4 C652.8 583.9 660.7 582.4 664.0 580.0 C667.3 577.6 671.0 574.5 670.6 571.2 C670.2 567.9 665.9 564.3 661.9 560.3 C657.9 556.3 649.5 550.5 646.6 547.2 C643.7 543.9 643.7 542.1 644.4 540.6 C645.1 539.1 647.7 536.6 651.0 538.4 C654.3 540.2 659.6 547.5 664.0 551.5 C668.4 555.5 673.4 560.7 677.2 562.5 C681.0 564.3 684.8 564.7 687.0 562.5 C689.2 560.3 690.5 555.1 690.3 549.3 C690.1 543.5 686.5 532.4 686.0 527.5 C685.5 522.6 685.9 520.9 687.0 519.8 C688.1 518.7 690.7 518.3 692.5 521.0 C694.3 523.7 697.1 530.4 698.0 536.2 C698.9 542.0 697.1 552.7 698.0 556.0 C698.9 559.3 701.8 557.1 703.4 556.0 C705.0 554.9 706.4 550.0 707.8 549.3 C709.2 548.5 710.2 550.2 712.0 551.5 C713.8 552.8 714.7 556.1 718.7 557.0 C722.7 557.9 731.5 559.7 736.2 557.0 C740.9 554.3 744.1 545.3 747.0 540.6 C749.9 535.9 751.7 530.4 753.7 528.6 C755.7 526.8 758.6 527.3 759.0 529.7 C759.4 532.1 757.8 537.7 755.8 542.8 C753.8 547.9 747.7 555.9 747.0 560.3 C746.3 564.7 748.2 569.4 751.5 569.0 C754.8 568.6 762.8 559.6 766.8 558.0 C770.8 556.4 774.8 557.7 775.5 559.2 C776.2 560.7 773.5 563.7 771.0 566.8 C768.5 569.9 761.6 573.4 760.2 577.8 C758.8 582.2 761.7 587.9 762.4 593.0 C763.1 598.1 764.6 603.3 764.6 608.4 C764.6 613.5 759.8 620.3 762.4 623.7 C765.0 627.1 772.7 626.5 780.0 629.0 C787.3 631.5 801.3 636.6 806.0 639.0 C810.7 641.4 809.0 642.8 808.3 643.3 C807.6 643.8 808.2 643.7 801.7 642.2 C795.2 640.8 777.0 635.1 769.0 634.6 C761.0 634.1 757.0 636.4 753.7 639.0 C750.4 641.6 747.8 644.5 749.3 650.0 C750.8 655.5 759.3 667.2 762.4 671.7 C765.5 676.2 767.9 676.1 767.9 677.2 C767.9 678.3 765.9 681.0 762.4 678.3 C758.9 675.6 750.6 665.2 747.0 660.8 C743.4 656.4 742.3 651.6 740.5 652.0 C738.7 652.4 738.0 661.5 736.2 663.0 C734.4 664.5 731.8 662.2 729.6 660.8 C727.4 659.3 727.4 655.4 723.0 654.3 C718.6 653.2 709.2 653.2 703.4 654.3 C697.6 655.4 691.3 656.4 688.0 660.8 C684.7 665.2 684.6 674.7 683.7 680.5 C682.8 686.3 683.5 693.6 682.6 695.8 C681.7 698.0 678.8 697.6 678.3 693.6 C677.8 689.6 679.5 677.9 679.3 671.7 C679.1 665.5 680.1 658.6 677.2 656.4 C674.3 654.2 664.9 659.0 662.0 658.6 C659.1 658.2 659.0 657.2 659.7 654.3 C660.4 651.4 665.5 644.8 666.2 641.1 C666.9 637.5 666.5 635.7 664.0 632.4 C661.5 629.1 655.0 623.0 651.0 621.5 C647.0 620.0 646.3 622.7 640.0 623.7 C633.7 624.7 617.7 627.5 613.0 627.5 C608.3 627.5 610.0 625.2 612.0 624.0 C614.0 622.8 620.3 621.5 625.0 620.0 C629.7 618.5 635.3 616.6 640.0 615.0Z" fill="#8b8bbe"/>
<path d="M677.2 601.8 C679.8 597.4 684.8 589.6 690.3 586.5 C695.8 583.4 704.2 582.5 710.0 583.2 C715.8 583.9 721.8 586.7 725.2 590.9 C728.7 595.1 730.3 602.6 730.7 608.4 C731.1 614.2 730.5 620.9 727.4 625.8 C724.3 630.7 717.9 636.1 712.1 637.9 C706.3 639.7 698.1 638.8 692.5 636.8 C686.9 634.8 681.2 629.8 678.3 625.8 C675.4 621.8 675.2 616.7 675.0 612.7 C674.8 608.7 674.7 606.2 677.2 601.8Z" fill="#6b6a9c"/>
<line x1="674" y1="551" x2="686" y2="563" stroke="#1d3550" stroke-width="1.3"/>
<path d="M659 541 C660 550 668 554 675 552 C682 550 685 544 682 535 L677 536 C678 543 675 547 671 547 C666 547 663 543 664 539Z" fill="#2a6f93"/>
<circle cx="669" cy="539.5" r="4.6" fill="url(#gIfn)"/>
<path d="M667 649 L671 662 L675 662 L679 649 M664 651 L669 663 M682 651 L677 663 M671 662 L668 672 M675 662 L679 671" stroke="#f0d28a" stroke-width="2.2" fill="none" stroke-linecap="round"/>
<circle cx="671.7" cy="665.5" r="2.2" fill="#a03a8a"/>
<path d="M661 669 L664 677 L668 673 L670 680 L674 670 M666 683 C662 683 660 687 663 690 C666 692 670 691 670 687 C670 684 668 683 666 683Z M665 690 L656 703" stroke="#2f6b4a" stroke-width="1.1" fill="none"/>
<text x="543.7" y="617" font-size="15.3" fill="#222">Mature DC</text>
</g>
<g id="mouse">
<path d="M92 609 C75 610 50 622 35 640 C26 651 20 662 16.5 670" fill="none" stroke="#c99f99" stroke-width="3.6" stroke-linecap="round"/>
<path d="M92 586 C88 582 86 578 84 574 C80 570 76 566 73 567 C71 569 74 572 76 573 C73 574 73 577 76 577 C78 578 80 578 82 579 C84 583 88 589 92 593Z" fill="#dbb3ac"/>
<path d="M106 580 C100 580 94 578 88 576 L84 580 C88 585 94 590 100 594Z" fill="#83807c"/>
<path d="M207 574 C210 568 213 562 214 558 C216 553 220 550 222 551 C224 553 221 556 219 558 C221 560 220 563 217 562 L211 572Z" fill="#dbb3ac"/>
<path d="M92 634 C88 638 86 642 84 646 C80 650 76 654 73 653 C71 651 74 648 76 647 C73 646 73 643 76 643 C78 642 80 642 82 641 C84 637 88 631 92 627Z" fill="#dbb3ac"/>
<path d="M106 640 C100 640 94 642 88 644 L84 640 C88 635 94 630 100 626Z" fill="#83807c"/>
<path d="M207 646 C210 652 213 658 214 662 C216 667 220 670 222 669 C224 667 221 664 219 662 C221 660 220 657 217 658 L211 648Z" fill="#dbb3ac"/>
<path d="M93.2 585.3 C95.9 582.6 99.3 578.3 108.0 577.2 C116.7 576.1 134.0 578.4 145.6 578.6 C157.2 578.8 170.2 579.3 177.8 578.6 C185.4 577.9 187.9 576.5 191.3 574.5 C194.7 572.5 195.1 569.0 198.0 566.5 C200.9 564.0 206.0 560.8 208.5 559.5 C211.0 558.2 212.3 558.1 213.0 559.0 C213.7 559.9 214.1 562.4 212.7 565.0 C211.3 567.6 205.1 571.8 204.7 574.5 C204.2 577.2 205.5 579.0 210.0 581.3 C214.5 583.5 224.8 585.5 231.5 588.0 C238.2 590.5 244.5 593.3 250.3 596.0 C256.1 598.7 262.7 601.8 266.5 604.0 C270.3 606.2 273.2 607.7 273.2 609.5 C273.2 611.3 270.3 612.3 266.5 614.8 C262.7 617.2 256.1 621.5 250.3 624.2 C244.5 626.9 238.2 628.8 231.5 631.0 C224.8 633.2 214.5 635.5 210.0 637.7 C205.5 639.9 204.5 641.4 204.7 644.4 C204.9 647.4 210.0 652.7 211.4 655.5 C212.8 658.3 213.5 660.2 213.0 661.0 C212.5 661.8 211.0 661.8 208.5 660.5 C206.0 659.2 201.3 656.2 198.0 653.5 C194.7 650.8 192.8 646.1 188.6 644.4 C184.3 642.6 179.7 642.3 172.5 643.0 C165.3 643.7 153.2 646.6 145.6 648.4 C138.0 650.2 132.6 653.1 126.8 653.8 C121.0 654.5 115.6 654.1 110.7 652.5 C105.8 650.9 100.3 648.0 97.2 644.4 C94.1 640.8 93.0 636.8 91.9 631.0 C90.8 625.2 90.5 615.8 90.5 609.5 C90.5 603.2 91.5 597.4 91.9 593.4 C92.4 589.4 90.5 588.0 93.2 585.3Z" fill="#83807c"/>
<circle cx="238.3" cy="588" r="5.6" fill="#d8aea8"/><circle cx="239.6" cy="629.6" r="5.6" fill="#d8aea8"/>
<circle cx="254.4" cy="601.4" r="1.4" fill="#1e1e1e"/><circle cx="254.4" cy="620.2" r="1.4" fill="#1e1e1e"/>
<circle cx="273.5" cy="609.5" r="2.2" fill="#dba4a4"/>
<path d="M270 606 L276 595 M271 606 L279 597 M270 613 L275 624 M271 613 L278 622" stroke="#e8e8e8" stroke-width="0.5"/>
<path d="M110.7 591 C111 580 118 577 127 577.2 C138 577 145 582 144.2 592 C144 601 137 605.4 127 605.4 C117 605.4 110.5 600 110.7 591Z" fill="#d8452f"/>
<path d="M116 584 C120 582 124 586 128 583 M131 590 C135 587 138 592 141 589 M114 596 C118 594 122 599 126 596 M130 600 C134 598 137 602 140 599" stroke="#b83a25" stroke-width="1" fill="none"/>
<circle cx="126" cy="635.7" r="8.7" fill="#d8452f"/>
<path d="M108 567 L144.2 567 L144.2 571 C140 572 139 578 137.5 590 C136 579 134 573 131 573 C128 573 127 579 125.5 590 C124 579 122 573 119 573 C116 573 115 579 113.5 590 C112 578 111 572 108 571Z" fill="#dfe6ec" stroke="#b9c4cc" stroke-width="0.5"/>
<text x="53" y="671" font-size="11" fill="#d07a45">B16-bearing melanoma model</text>
</g>
<g id="ifn">
<path d="M546 362 Q612 376 632 430" fill="none" stroke="#86b4dc" stroke-width="2.2"/>
<path d="M626 428 L634 437 L636 425Z" fill="#86b4dc"/>
<ellipse cx="573.5" cy="363.5" rx="13.5" ry="17.5" transform="rotate(22 573.5 363.5)" fill="#a8aaa9"/>
<circle cx="635" cy="449.2" r="4.8" fill="url(#gIfnL)"/>
<circle cx="620.4" cy="467.5" r="4.5" fill="url(#gIfn)"/>
<circle cx="636" cy="473" r="4.5" fill="url(#gIfn)"/>
<circle cx="657" cy="474" r="5" fill="url(#gIfnL)"/>
<circle cx="604" cy="477.7" r="4.8" fill="url(#gIfn)"/>
<circle cx="600.3" cy="498.5" r="4.6" fill="url(#gIfnL)"/>
<circle cx="623" cy="493.7" r="4" fill="url(#gIfn)"/>
<circle cx="647.8" cy="493" r="4.4" fill="url(#gIfn)"/>
<circle cx="625" cy="511.3" r="4.8" fill="url(#gIfnL)"/>
<circle cx="650.3" cy="510.5" r="4.5" fill="url(#gIfn)"/>
<text x="655" y="464" font-size="15.3" fill="#222">IFN-β</text>
</g>
<g id="tact">
<path d="M570 738 C570 710 592 690 622 690.5 C652 691 672 712 672 740 C672 768 650 790 620 790 C590 790 570 766 570 738Z" fill="#a8d1b1" stroke="#7fb08e" stroke-width="1"/>
<circle cx="627.4" cy="739.7" r="30.8" fill="#74ac8b" stroke="#5f9a79" stroke-width="0.8"/>
<path d="M601 740 C600 728 606 718 614 713" fill="none" stroke="#b9dcc4" stroke-width="1.4"/>
<circle cx="578.5" cy="723.7" r="1.7" fill="#5d9c77"/>
<circle cx="592.7" cy="717.6" r="1.7" fill="#5d9c77"/>
<circle cx="619.1" cy="705.7" r="1.7" fill="#5d9c77"/>
<circle cx="637.8" cy="701.8" r="1.7" fill="#5d9c77"/>
<circle cx="654.3" cy="719.3" r="1.7" fill="#5d9c77"/>
<circle cx="584.0" cy="743.1" r="1.7" fill="#5d9c77"/>
<circle cx="588.8" cy="760.0" r="1.7" fill="#5d9c77"/>
<circle cx="607.7" cy="779.8" r="1.7" fill="#5d9c77"/>
<circle cx="636.7" cy="778.7" r="1.7" fill="#5d9c77"/>
<circle cx="649.5" cy="766.2" r="1.7" fill="#5d9c77"/>
<circle cx="665.7" cy="747.9" r="1.7" fill="#5d9c77"/>
<text x="501.5" y="820" font-size="17" fill="#79b08b">T cell activation</text>
<path d="M569.7 773 Q522 800 449 804" fill="none" stroke="#5f9e7b" stroke-width="2.4"/>
<path d="M450 797.5 L440 804 L450 810.5Z" fill="#5f9e7b"/>
</g>
<g id="ctl">
<g >
<path d="M381.3 765.4 C373.6 765.7 365.4 768.1 359.2 771.4 C353.0 774.8 347.5 779.8 344.1 785.5 C340.8 791.2 339.4 798.9 339.1 805.6 C338.8 812.3 341.8 819.7 342.1 825.7 C342.4 831.8 342.6 835.8 341.1 841.8 C339.6 847.9 334.7 857.3 333.0 862.0 C331.4 866.7 329.7 868.0 331.0 870.0 C332.4 872.0 337.7 873.0 341.1 874.0 C344.5 875.1 348.3 874.9 351.2 876.1 C354.0 877.2 355.9 880.9 358.2 881.1 C360.6 881.3 362.4 878.4 365.2 877.1 C368.1 875.7 372.3 872.4 375.3 873.0 C378.3 873.7 380.7 880.8 383.4 881.1 C386.0 881.4 388.4 876.4 391.4 875.1 C394.4 873.7 398.5 871.9 401.5 873.0 C404.5 874.2 406.8 881.8 409.5 882.1 C412.2 882.4 414.6 876.6 417.6 875.1 C420.6 873.5 424.3 872.5 427.6 873.0 C431.0 873.5 435.0 877.9 437.7 878.1 C440.4 878.2 444.1 876.7 443.7 874.0 C443.4 871.4 439.0 866.7 435.7 862.0 C432.3 857.3 426.0 851.9 423.6 845.9 C421.3 839.8 421.3 832.5 421.6 825.7 C421.9 819.0 425.6 812.3 425.6 805.6 C425.6 798.9 425.0 791.5 421.6 785.5 C418.2 779.5 412.2 772.8 405.5 769.4 C398.8 766.0 389.1 765.0 381.3 765.4Z" fill="#a8d1b1" stroke="#7fb08e" stroke-width="1"/>
<circle cx="384.4" cy="807.2" r="30.2" fill="#74ac8b" stroke="#5f9a79" stroke-width="0.8"/>
<path d="M360 812 C358 798 364 786 374 780" fill="none" stroke="#b9dcc4" stroke-width="1.5"/>
<circle cx="368.3" cy="775.4" r="1.7" fill="#5d9c77"/>
<circle cx="405.5" cy="779.5" r="1.7" fill="#5d9c77"/>
<circle cx="345.1" cy="798.6" r="1.7" fill="#5d9c77"/>
<circle cx="417.6" cy="801.6" r="1.7" fill="#5d9c77"/>
<circle cx="349.1" cy="814.7" r="1.7" fill="#5d9c77"/>
<circle cx="415.6" cy="821.7" r="1.7" fill="#5d9c77"/>
<circle cx="354.2" cy="839.8" r="1.7" fill="#5d9c77"/>
<circle cx="404.5" cy="839.8" r="1.7" fill="#5d9c77"/>
<circle cx="372.3" cy="849.9" r="1.7" fill="#5d9c77"/>
<circle cx="405.5" cy="854.9" r="1.7" fill="#5d9c77"/>
<circle cx="349.1" cy="861.0" r="1.7" fill="#5d9c77"/>
<circle cx="379.3" cy="864.0" r="1.7" fill="#5d9c77"/>
<circle cx="419.6" cy="866.0" r="1.7" fill="#5d9c77"/>
</g>
<path d="M357 773 C357 766 356 760 354 756 C350 760 343 761 338 757 C334 753 337 747 343 748 C348 749 351 752 353 754 C352 749 351 744 355 741 C360 739 364 744 363 750 C362 755 359 758 358 762 C359 766 360 770 361 773Z" fill="#f4d77c" stroke="#e2c05a" stroke-width="0.6"/>
<g stroke="#b8464c" stroke-width="2" fill="none">
<path d="M354 733 L363 729 M356 737 L365 733 M363 729 L367 716 M366 731 L370 717 M365 733 L371 743 M368 731 L374 741 M369 730 L375 740"/>
<path d="M381 741 L394 735 M383 745 L396 739 M394 735 L403 717 M397 737 L407 718 M396 739 L401 752 M399 737 L405 751"/>
</g>
<text x="300.8" y="777" font-size="15" fill="#222">PD-1</text>
<text x="366.5" y="703" font-size="15" fill="#222">αPD-1</text>
<text x="328" y="906" font-size="15.3" fill="#222">Cytotoxic T cell</text>
<path d="M330.7 803 Q270 802 226 772" fill="none" stroke="#5f9e7b" stroke-width="2.4"/>
<path d="M230 766 L218.5 768 L223.5 778Z" fill="#5f9e7b"/>
</g>
<g id="dying">
<g transform="translate(210.2 741) rotate(25) scale(0.42) translate(-384.4 -807.2)">
<path d="M381.3 765.4 C373.6 765.7 365.4 768.1 359.2 771.4 C353.0 774.8 347.5 779.8 344.1 785.5 C340.8 791.2 339.4 798.9 339.1 805.6 C338.8 812.3 341.8 819.7 342.1 825.7 C342.4 831.8 342.6 835.8 341.1 841.8 C339.6 847.9 334.7 857.3 333.0 862.0 C331.4 866.7 329.7 868.0 331.0 870.0 C332.4 872.0 337.7 873.0 341.1 874.0 C344.5 875.1 348.3 874.9 351.2 876.1 C354.0 877.2 355.9 880.9 358.2 881.1 C360.6 881.3 362.4 878.4 365.2 877.1 C368.1 875.7 372.3 872.4 375.3 873.0 C378.3 873.7 380.7 880.8 383.4 881.1 C386.0 881.4 388.4 876.4 391.4 875.1 C394.4 873.7 398.5 871.9 401.5 873.0 C404.5 874.2 406.8 881.8 409.5 882.1 C412.2 882.4 414.6 876.6 417.6 875.1 C420.6 873.5 424.3 872.5 427.6 873.0 C431.0 873.5 435.0 877.9 437.7 878.1 C440.4 878.2 444.1 876.7 443.7 874.0 C443.4 871.4 439.0 866.7 435.7 862.0 C432.3 857.3 426.0 851.9 423.6 845.9 C421.3 839.8 421.3 832.5 421.6 825.7 C421.9 819.0 425.6 812.3 425.6 805.6 C425.6 798.9 425.0 791.5 421.6 785.5 C418.2 779.5 412.2 772.8 405.5 769.4 C398.8 766.0 389.1 765.0 381.3 765.4Z" fill="#a8d1b1" stroke="#7fb08e" stroke-width="1"/>
<circle cx="384.4" cy="807.2" r="30.2" fill="#74ac8b" stroke="#5f9a79" stroke-width="0.8"/>
<path d="M360 812 C358 798 364 786 374 780" fill="none" stroke="#b9dcc4" stroke-width="1.5"/>
<circle cx="368.3" cy="775.4" r="1.7" fill="#5d9c77"/>
<circle cx="405.5" cy="779.5" r="1.7" fill="#5d9c77"/>
<circle cx="345.1" cy="798.6" r="1.7" fill="#5d9c77"/>
<circle cx="417.6" cy="801.6" r="1.7" fill="#5d9c77"/>
<circle cx="349.1" cy="814.7" r="1.7" fill="#5d9c77"/>
<circle cx="415.6" cy="821.7" r="1.7" fill="#5d9c77"/>
<circle cx="354.2" cy="839.8" r="1.7" fill="#5d9c77"/>
<circle cx="404.5" cy="839.8" r="1.7" fill="#5d9c77"/>
<circle cx="372.3" cy="849.9" r="1.7" fill="#5d9c77"/>
<circle cx="405.5" cy="854.9" r="1.7" fill="#5d9c77"/>
<circle cx="349.1" cy="861.0" r="1.7" fill="#5d9c77"/>
<circle cx="379.3" cy="864.0" r="1.7" fill="#5d9c77"/>
<circle cx="419.6" cy="866.0" r="1.7" fill="#5d9c77"/>
</g>
<g transform="translate(186.7 722.2) rotate(48) scale(0.5) translate(-384.4 -807.2)">
<path d="M381.3 765.4 C373.6 765.7 365.4 768.1 359.2 771.4 C353.0 774.8 347.5 779.8 344.1 785.5 C340.8 791.2 339.4 798.9 339.1 805.6 C338.8 812.3 341.8 819.7 342.1 825.7 C342.4 831.8 342.6 835.8 341.1 841.8 C339.6 847.9 334.7 857.3 333.0 862.0 C331.4 866.7 329.7 868.0 331.0 870.0 C332.4 872.0 337.7 873.0 341.1 874.0 C344.5 875.1 348.3 874.9 351.2 876.1 C354.0 877.2 355.9 880.9 358.2 881.1 C360.6 881.3 362.4 878.4 365.2 877.1 C368.1 875.7 372.3 872.4 375.3 873.0 C378.3 873.7 380.7 880.8 383.4 881.1 C386.0 881.4 388.4 876.4 391.4 875.1 C394.4 873.7 398.5 871.9 401.5 873.0 C404.5 874.2 406.8 881.8 409.5 882.1 C412.2 882.4 414.6 876.6 417.6 875.1 C420.6 873.5 424.3 872.5 427.6 873.0 C431.0 873.5 435.0 877.9 437.7 878.1 C440.4 878.2 444.1 876.7 443.7 874.0 C443.4 871.4 439.0 866.7 435.7 862.0 C432.3 857.3 426.0 851.9 423.6 845.9 C421.3 839.8 421.3 832.5 421.6 825.7 C421.9 819.0 425.6 812.3 425.6 805.6 C425.6 798.9 425.0 791.5 421.6 785.5 C418.2 779.5 412.2 772.8 405.5 769.4 C398.8 766.0 389.1 765.0 381.3 765.4Z" fill="#a8d1b1" stroke="#7fb08e" stroke-width="1"/>
<circle cx="384.4" cy="807.2" r="30.2" fill="#74ac8b" stroke="#5f9a79" stroke-width="0.8"/>
<path d="M360 812 C358 798 364 786 374 780" fill="none" stroke="#b9dcc4" stroke-width="1.5"/>
<circle cx="368.3" cy="775.4" r="1.7" fill="#5d9c77"/>
<circle cx="405.5" cy="779.5" r="1.7" fill="#5d9c77"/>
<circle cx="345.1" cy="798.6" r="1.7" fill="#5d9c77"/>
<circle cx="417.6" cy="801.6" r="1.7" fill="#5d9c77"/>
<circle cx="349.1" cy="814.7" r="1.7" fill="#5d9c77"/>
<circle cx="415.6" cy="821.7" r="1.7" fill="#5d9c77"/>
<circle cx="354.2" cy="839.8" r="1.7" fill="#5d9c77"/>
<circle cx="404.5" cy="839.8" r="1.7" fill="#5d9c77"/>
<circle cx="372.3" cy="849.9" r="1.7" fill="#5d9c77"/>
<circle cx="405.5" cy="854.9" r="1.7" fill="#5d9c77"/>
<circle cx="349.1" cy="861.0" r="1.7" fill="#5d9c77"/>
<circle cx="379.3" cy="864.0" r="1.7" fill="#5d9c77"/>
<circle cx="419.6" cy="866.0" r="1.7" fill="#5d9c77"/>
</g>
<g stroke="#b8464c" stroke-width="1.2" fill="none"><path d="M198 716 L206 711 M199 719 L207 714 M206 711 L211 700 M208 713 L214 701 M207 714 L210 720"/><path d="M214 731 L221 727 M215 734 L222 730 M221 727 L226 715 M223 729 L229 717 M222 730 L225 736"/></g>
<path d="M211 703 C216 704 220 710 221 715 C217 716 213 712 211 708Z M216 712 C220 712 222 715 220 718 Z M226 718 C231 719 235 724 236 728 C232 729 228 726 226 722Z" fill="#f4d77c"/>
<path d="M155.7 721.6 Q142 700 136 683" fill="none" stroke="#5f9e7b" stroke-width="2.4"/>
<path d="M130 685 L135 673 L142 684Z" fill="#5f9e7b"/>
</g>
<path d="M121 554.7 Q124 525 137 504" fill="none" stroke="#e8aaaa" stroke-width="2.2"/>
<path d="M131 505 L139 498 L141 509Z" fill="#e8aaaa"/>
</svg>
</body></html>
